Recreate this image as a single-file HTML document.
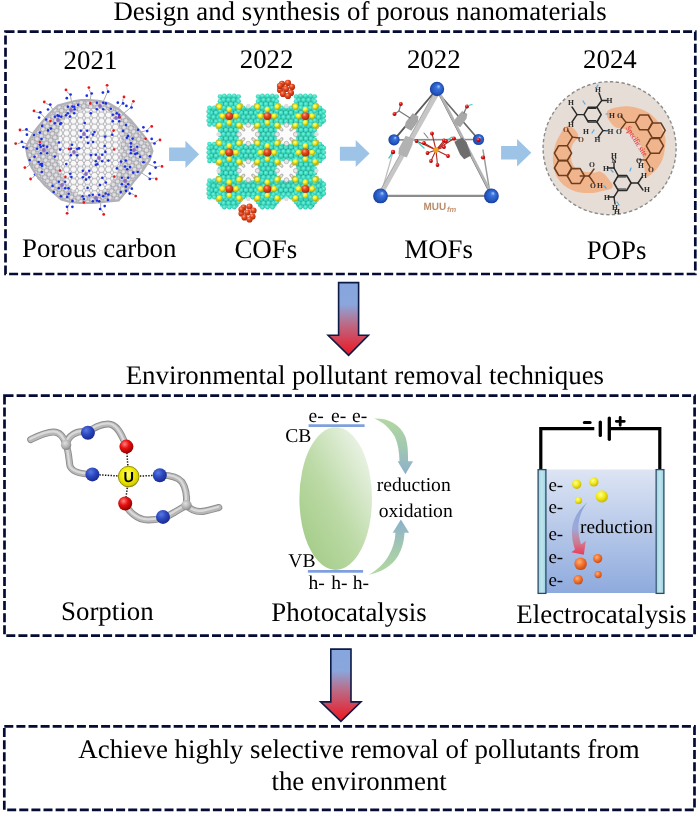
<!DOCTYPE html>
<html><head><meta charset="utf-8">
<style>
html,body{margin:0;padding:0;background:#fff;}
body{width:700px;height:814px;overflow:hidden;}
svg{display:block;will-change:transform;}
text{font-family:"Liberation Serif",serif;text-rendering:geometricPrecision;}
</style></head>
<body>
<svg width="700" height="814" viewBox="0 0 700 814">
<defs>
<linearGradient id="gArrow" x1="0" y1="0" x2="0" y2="1">
<stop offset="0" stop-color="#86a6de"/><stop offset="0.3" stop-color="#8aa6dc"/>
<stop offset="0.55" stop-color="#b86f8c"/><stop offset="1" stop-color="#f0141e"/>
</linearGradient>
<radialGradient id="gBlue" cx="0.5" cy="0.5" r="0.5" fx="0.63" fy="0.3">
<stop offset="0" stop-color="#a8ccff"/><stop offset="0.3" stop-color="#3a72da"/><stop offset="0.75" stop-color="#2456c0"/><stop offset="1" stop-color="#183e9c"/>
</radialGradient>
<radialGradient id="gRed" cx="0.38" cy="0.32" r="0.7">
<stop offset="0" stop-color="#ff9a8a"/><stop offset="0.4" stop-color="#e82020"/><stop offset="1" stop-color="#a00808"/>
</radialGradient>
<radialGradient id="gRedO" cx="0.38" cy="0.32" r="0.7">
<stop offset="0" stop-color="#ffa080"/><stop offset="0.4" stop-color="#e84a20"/><stop offset="1" stop-color="#a82808"/>
</radialGradient>
<radialGradient id="gTeal" cx="0.45" cy="0.4" r="0.65">
<stop offset="0" stop-color="#6ef8e0"/><stop offset="0.55" stop-color="#40dcc2"/><stop offset="1" stop-color="#28b8a0"/>
</radialGradient>
<radialGradient id="gYel" cx="0.4" cy="0.35" r="0.7">
<stop offset="0" stop-color="#ffffa0"/><stop offset="0.45" stop-color="#f2ea1a"/><stop offset="1" stop-color="#b0a000"/>
</radialGradient>
<radialGradient id="gYel2" cx="0.4" cy="0.35" r="0.7">
<stop offset="0" stop-color="#ffff90"/><stop offset="0.5" stop-color="#f0e818"/><stop offset="1" stop-color="#c0b000"/>
</radialGradient>
<radialGradient id="gOr" cx="0.4" cy="0.35" r="0.7">
<stop offset="0" stop-color="#ffb070"/><stop offset="0.5" stop-color="#f07030"/><stop offset="1" stop-color="#c04810"/>
</radialGradient>
<radialGradient id="gU" cx="0.45" cy="0.4" r="0.6">
<stop offset="0" stop-color="#ffff70"/><stop offset="0.55" stop-color="#f0ec00"/><stop offset="0.9" stop-color="#d4cc00"/><stop offset="1" stop-color="#a09800"/>
</radialGradient>
<radialGradient id="gKnot" cx="0.4" cy="0.35" r="0.7">
<stop offset="0" stop-color="#e0e0e0"/><stop offset="0.6" stop-color="#b0b0b0"/><stop offset="1" stop-color="#808080"/>
</radialGradient>
<radialGradient id="gBall2" cx="0.38" cy="0.32" r="0.7">
<stop offset="0" stop-color="#5a78e0"/><stop offset="0.5" stop-color="#2c48c0"/><stop offset="1" stop-color="#1a2a8c"/>
</radialGradient>
<radialGradient id="gBallR" cx="0.38" cy="0.32" r="0.7">
<stop offset="0" stop-color="#ff8080"/><stop offset="0.45" stop-color="#e81010"/><stop offset="1" stop-color="#900000"/>
</radialGradient>
<linearGradient id="gEll" x1="0.1" y1="0.95" x2="0.95" y2="0.05">
<stop offset="0" stop-color="#a2cb86"/><stop offset="0.45" stop-color="#bcdaa6"/><stop offset="1" stop-color="#f2f7f0"/>
</linearGradient>
<linearGradient id="gSol" x1="0" y1="0" x2="0" y2="1">
<stop offset="0" stop-color="#dde5f4"/><stop offset="1" stop-color="#8eaadd"/>
</linearGradient>
<linearGradient id="gElec" x1="0" y1="0" x2="1" y2="0">
<stop offset="0" stop-color="#9ed4e2"/><stop offset="0.5" stop-color="#bfe6ee"/><stop offset="1" stop-color="#98d0e0"/>
</linearGradient>
<linearGradient id="gCurA" x1="0" y1="0" x2="0" y2="1">
<stop offset="0" stop-color="#b2d8a0"/><stop offset="0.5" stop-color="#a2c8b0"/><stop offset="1" stop-color="#8cb0cc"/>
</linearGradient>
<linearGradient id="gCurB" x1="0" y1="1" x2="0" y2="0">
<stop offset="0" stop-color="#b2d8a0"/><stop offset="0.5" stop-color="#a2c8b0"/><stop offset="1" stop-color="#8cb0cc"/>
</linearGradient>
<linearGradient id="gCurE" x1="0" y1="0" x2="0" y2="1">
<stop offset="0" stop-color="#8aa6de"/><stop offset="0.5" stop-color="#9ea8d8"/><stop offset="0.78" stop-color="#d0788e"/><stop offset="1" stop-color="#ec3a56"/>
</linearGradient>
<pattern id="tealPat" width="5" height="8.6" patternUnits="userSpaceOnUse" x="1" y="1">
<rect width="5" height="8.6" fill="#229c8a"/>
<circle cx="0" cy="0" r="2.45" fill="url(#gTeal)"/><circle cx="5" cy="0" r="2.45" fill="url(#gTeal)"/>
<circle cx="2.5" cy="4.3" r="2.45" fill="url(#gTeal)"/>
<circle cx="0" cy="8.6" r="2.45" fill="url(#gTeal)"/><circle cx="5" cy="8.6" r="2.45" fill="url(#gTeal)"/>
</pattern>
<pattern id="hexS" width="5.2" height="9" patternUnits="userSpaceOnUse" patternTransform="rotate(-35)">
<path d="M0,0 L1.3,2.25 L3.9,2.25 L5.2,0 M1.3,2.25 L0,4.5 L1.3,6.75 L3.9,6.75 L5.2,4.5 L3.9,2.25 M1.3,6.75 L0,9 M3.9,6.75 L5.2,9" fill="none" stroke="#a2a2a8" stroke-width="0.95"/>
</pattern>
<pattern id="hexL" width="7" height="12.1" patternUnits="userSpaceOnUse">
<path d="M0,0 L1.75,3.03 L5.25,3.03 L7,0 M1.75,3.03 L0,6.06 L1.75,9.09 L5.25,9.09 L7,6.06 L5.25,3.03 M1.75,9.09 L0,12.12 M5.25,9.09 L7,12.12" fill="none" stroke="#a8a8ae" stroke-width="0.9"/>
</pattern>
</defs>

<!-- boxes -->
<g fill="none" stroke="#040b34" stroke-width="2.7" stroke-dasharray="9 3.1">
<rect x="5.5" y="31.7" width="689.8" height="242.3"/>
<rect x="4.5" y="395.7" width="690.1" height="239.9"/>
<rect x="4.3" y="726.4" width="690.2" height="83.5"/>
</g>
<g font-size="26.88">
<text x="113.4" y="20.4">Design and synthesis of porous nanomaterials</text>
<text x="63.6" y="68.6">2021</text>
<text x="239.7" y="68.4">2022</text>
<text x="406.9" y="67.9">2022</text>
<text x="583" y="68.1">2024</text>
<text x="21.95" y="257.4">Porous carbon</text>
<text x="234.4" y="258.3">COFs</text>
<text x="404.25" y="258.3">MOFs</text>
<text x="586.65" y="258.8">POPs</text>
<text x="125.65" y="383.9">Environmental pollutant removal techniques</text>
<text x="61" y="620">Sorption</text>
<text x="271.35" y="621.3">Photocatalysis</text>
<text x="516.35" y="623.1">Electrocatalysis</text>
<text x="78.35" y="757.5">Achieve highly selective removal of pollutants from</text>
<text x="271.45" y="790.4">the environment</text>
</g>
<path d="M338.6,282.6 H358.6 V335.3 H368.4 L348.6,355.3 L328.1,335.3 H338.6 Z" fill="url(#gArrow)" stroke="#0d1a45" stroke-width="1.6"/>
<path d="M330.8,649.1 H351 V701.9 H361 L340.9,721.3 L320.6,701.9 H330.8 Z" fill="url(#gArrow)" stroke="#0d1a45" stroke-width="1.6"/>
<g fill="#9dc3e6">
<path d="M169.1,147.5 H185.4 V140.7 L199.1,154.3 L185.4,167.9 V161.1 H169.1 Z"/>
<path d="M339.9,146.8 H355.7 V140 L369.6,153.6 L355.7,167.1 V160.7 H339.9 Z"/>
<path d="M501.1,145.9 H517.1 V139.1 L531.3,152.7 L517.1,166.4 V159.6 H501.1 Z"/>
</g>
<path d="M66.8,91.7 L70.2,94.7 L72.2,104.7" stroke="#a0a0a8" stroke-width="0.9" fill="none"/>
<circle cx="66.0" cy="89.9" r="1.4" fill="#e81818"/>
<circle cx="70.6" cy="94.5" r="1.35" fill="#1a2ee8"/>
<circle cx="66.8" cy="98.2" r="1.35" fill="#1a2ee8"/>
<path d="M89.0,89.6 L91.2,93.5 L89.7,103.6" stroke="#a0a0a8" stroke-width="0.9" fill="none"/>
<circle cx="88.9" cy="87.6" r="1.4" fill="#e81818"/>
<circle cx="91.7" cy="93.5" r="1.35" fill="#1a2ee8"/>
<circle cx="86.8" cy="95.7" r="1.35" fill="#1a2ee8"/>
<path d="M106.7,87.3 L107.7,91.6 L103.6,100.9" stroke="#a0a0a8" stroke-width="0.9" fill="none"/>
<circle cx="107.1" cy="85.3" r="1.4" fill="#e81818"/>
<circle cx="108.2" cy="91.7" r="1.35" fill="#1a2ee8"/>
<circle cx="102.9" cy="92.6" r="1.35" fill="#1a2ee8"/>
<path d="M45.7,103.4 L49.9,105.0 L55.3,113.6" stroke="#a0a0a8" stroke-width="0.9" fill="none"/>
<circle cx="44.3" cy="102.0" r="1.4" fill="#e81818"/>
<circle cx="50.3" cy="104.6" r="1.35" fill="#1a2ee8"/>
<circle cx="48.0" cy="109.5" r="1.35" fill="#1a2ee8"/>
<path d="M35.6,112.1 L40.1,112.7 L47.1,120.2" stroke="#a0a0a8" stroke-width="0.9" fill="none"/>
<circle cx="34.0" cy="110.9" r="1.4" fill="#e81818"/>
<circle cx="40.3" cy="112.3" r="1.35" fill="#1a2ee8"/>
<circle cx="39.1" cy="117.6" r="1.35" fill="#1a2ee8"/>
<path d="M132.1,102.8 L131.2,107.2 L123.3,113.7" stroke="#a0a0a8" stroke-width="0.9" fill="none"/>
<circle cx="133.4" cy="101.3" r="1.4" fill="#e81818"/>
<circle cx="131.5" cy="107.5" r="1.35" fill="#1a2ee8"/>
<circle cx="126.4" cy="105.9" r="1.35" fill="#1a2ee8"/>
<path d="M123.0,98.7 L122.7,103.2 L116.0,110.8" stroke="#a0a0a8" stroke-width="0.9" fill="none"/>
<circle cx="124.0" cy="97.0" r="1.4" fill="#e81818"/>
<circle cx="123.1" cy="103.4" r="1.35" fill="#1a2ee8"/>
<circle cx="117.8" cy="102.7" r="1.35" fill="#1a2ee8"/>
<path d="M149.9,127.2 L147.0,130.6 L137.0,132.7" stroke="#a0a0a8" stroke-width="0.9" fill="none"/>
<circle cx="151.7" cy="126.4" r="1.4" fill="#e81818"/>
<circle cx="147.2" cy="131.1" r="1.35" fill="#1a2ee8"/>
<circle cx="143.4" cy="127.3" r="1.35" fill="#1a2ee8"/>
<path d="M17.7,143.8 L21.9,142.3 L31.6,145.4" stroke="#a0a0a8" stroke-width="0.9" fill="none"/>
<circle cx="15.7" cy="143.6" r="1.4" fill="#e81818"/>
<circle cx="21.9" cy="141.8" r="1.35" fill="#1a2ee8"/>
<circle cx="23.4" cy="147.0" r="1.35" fill="#1a2ee8"/>
<path d="M26.8,167.1 L30.3,164.3 L40.5,164.0" stroke="#a0a0a8" stroke-width="0.9" fill="none"/>
<circle cx="24.9" cy="167.6" r="1.4" fill="#e81818"/>
<circle cx="30.2" cy="163.8" r="1.35" fill="#1a2ee8"/>
<circle cx="33.3" cy="168.2" r="1.35" fill="#1a2ee8"/>
<path d="M32.4,178.2 L35.3,174.8 L45.2,172.6" stroke="#a0a0a8" stroke-width="0.9" fill="none"/>
<circle cx="30.6" cy="179.0" r="1.4" fill="#e81818"/>
<circle cx="35.1" cy="174.3" r="1.35" fill="#1a2ee8"/>
<circle cx="38.9" cy="178.1" r="1.35" fill="#1a2ee8"/>
<path d="M67.9,211.4 L67.5,207.0 L73.1,198.5" stroke="#a0a0a8" stroke-width="0.9" fill="none"/>
<circle cx="67.1" cy="213.3" r="1.4" fill="#e81818"/>
<circle cx="67.0" cy="206.8" r="1.35" fill="#1a2ee8"/>
<circle cx="72.4" cy="206.8" r="1.35" fill="#1a2ee8"/>
<path d="M103.3,212.4 L100.6,208.9 L100.8,198.7" stroke="#a0a0a8" stroke-width="0.9" fill="none"/>
<circle cx="103.7" cy="214.4" r="1.4" fill="#e81818"/>
<circle cx="100.1" cy="209.0" r="1.35" fill="#1a2ee8"/>
<circle cx="104.7" cy="206.1" r="1.35" fill="#1a2ee8"/>
<path d="M160.0,166.0 L155.7,167.2 L146.3,163.2" stroke="#a0a0a8" stroke-width="0.9" fill="none"/>
<circle cx="162.0" cy="166.4" r="1.4" fill="#e81818"/>
<circle cx="155.6" cy="167.6" r="1.35" fill="#1a2ee8"/>
<circle cx="154.7" cy="162.3" r="1.35" fill="#1a2ee8"/>
<path d="M154.5,178.2 L150.0,178.5 L141.5,172.8" stroke="#a0a0a8" stroke-width="0.9" fill="none"/>
<circle cx="156.3" cy="179.0" r="1.4" fill="#e81818"/>
<circle cx="149.8" cy="179.0" r="1.35" fill="#1a2ee8"/>
<circle cx="149.9" cy="173.6" r="1.35" fill="#1a2ee8"/>
<path d="M134.3,194.7 L130.1,193.2 L124.4,184.7" stroke="#a0a0a8" stroke-width="0.9" fill="none"/>
<circle cx="135.7" cy="196.1" r="1.4" fill="#e81818"/>
<circle cx="129.7" cy="193.6" r="1.35" fill="#1a2ee8"/>
<circle cx="131.8" cy="188.7" r="1.35" fill="#1a2ee8"/>
<path d="M158.0,140.3 L154.4,143.0 L144.2,142.8" stroke="#a0a0a8" stroke-width="0.9" fill="none"/>
<circle cx="160.0" cy="140.0" r="1.4" fill="#e81818"/>
<circle cx="154.5" cy="143.5" r="1.35" fill="#1a2ee8"/>
<circle cx="151.7" cy="138.9" r="1.35" fill="#1a2ee8"/>
<path d="M21.9,130.6 L26.3,129.8 L35.3,134.7" stroke="#a0a0a8" stroke-width="0.9" fill="none"/>
<circle cx="20.0" cy="130.0" r="1.4" fill="#e81818"/>
<circle cx="26.5" cy="129.4" r="1.35" fill="#1a2ee8"/>
<circle cx="26.9" cy="134.7" r="1.35" fill="#1a2ee8"/>
<polygon points="26.0,147.0 30.0,139.0 34.0,132.0 38.0,127.0 43.0,121.0 48.0,115.0 53.0,110.0 58.0,105.5 67.0,103.0 75.0,101.0 81.0,100.0 90.0,100.0 100.0,101.0 108.0,103.0 110.0,104.0 119.3,109.7 130.7,120.0 142.1,133.7 150.1,144.0 152.4,151.0 149.4,160.6 141.7,172.1 134.0,181.1 126.3,191.4 118.6,200.4 105.7,201.7 92.9,203.0 80.0,203.0 70.0,202.0 61.4,199.4 53.0,192.4 45.0,185.4 37.0,176.0 31.4,166.7 27.5,156.0" fill="#e2e2e6"/>
<polygon points="26.0,147.0 30.0,139.0 34.0,132.0 38.0,127.0 43.0,121.0 48.0,115.0 53.0,110.0 58.0,105.5 67.0,103.0 75.0,101.0 81.0,100.0 90.0,100.0 100.0,101.0 108.0,103.0 110.0,104.0 119.3,109.7 130.7,120.0 142.1,133.7 150.1,144.0 152.4,151.0 149.4,160.6 141.7,172.1 134.0,181.1 126.3,191.4 118.6,200.4 105.7,201.7 92.9,203.0 80.0,203.0 70.0,202.0 61.4,199.4 53.0,192.4 45.0,185.4 37.0,176.0 31.4,166.7 27.5,156.0" fill="url(#hexS)"/>
<polygon points="26.0,147.0 30.0,139.0 34.0,132.0 38.0,127.0 43.0,121.0 48.0,115.0 53.0,110.0 58.0,105.5 67.0,103.0 75.0,101.0 81.0,100.0 90.0,100.0 100.0,101.0 108.0,103.0 110.0,104.0 119.3,109.7 130.7,120.0 142.1,133.7 150.1,144.0 152.4,151.0 149.4,160.6 141.7,172.1 134.0,181.1 126.3,191.4 118.6,200.4 105.7,201.7 92.9,203.0 80.0,203.0 70.0,202.0 61.4,199.4 53.0,192.4 45.0,185.4 37.0,176.0 31.4,166.7 27.5,156.0" fill="none" stroke="#b0b0b6" stroke-width="2.2"/>
<polygon points="60.0,126.0 68.0,115.0 85.0,109.0 106.0,109.0 117.0,118.0 121.0,135.0 120.0,160.0 116.0,176.0 108.0,188.0 94.0,196.0 78.0,194.0 66.0,184.0 60.0,168.0 58.0,148.0" fill="#f8f8f8"/>
<polygon points="60.0,126.0 68.0,115.0 85.0,109.0 106.0,109.0 117.0,118.0 121.0,135.0 120.0,160.0 116.0,176.0 108.0,188.0 94.0,196.0 78.0,194.0 66.0,184.0 60.0,168.0 58.0,148.0" fill="url(#hexL)"/>
<circle cx="83.9" cy="199.0" r="1.3" fill="#1a2ee8"/>
<circle cx="108.3" cy="194.5" r="1.3" fill="#1a2ee8"/>
<circle cx="37.1" cy="148.7" r="1.3" fill="#1a2ee8"/>
<circle cx="54.8" cy="156.6" r="1.3" fill="#1a2ee8"/>
<circle cx="50.8" cy="128.6" r="1.3" fill="#1a2ee8"/>
<circle cx="40.5" cy="164.4" r="1.3" fill="#1a2ee8"/>
<circle cx="138.0" cy="129.7" r="1.3" fill="#1a2ee8"/>
<circle cx="149.9" cy="156.2" r="1.3" fill="#1a2ee8"/>
<circle cx="70.0" cy="116.6" r="1.3" fill="#1a2ee8"/>
<circle cx="112.2" cy="134.8" r="1.3" fill="#1a2ee8"/>
<circle cx="130.9" cy="150.0" r="1.3" fill="#1a2ee8"/>
<circle cx="126.8" cy="137.8" r="1.3" fill="#1a2ee8"/>
<circle cx="34.1" cy="135.1" r="1.3" fill="#1a2ee8"/>
<circle cx="103.2" cy="196.3" r="1.3" fill="#1a2ee8"/>
<circle cx="67.2" cy="197.0" r="1.3" fill="#1a2ee8"/>
<circle cx="94.5" cy="132.1" r="1.3" fill="#1a2ee8"/>
<circle cx="41.8" cy="172.1" r="1.3" fill="#1a2ee8"/>
<circle cx="93.0" cy="142.0" r="1.3" fill="#1a2ee8"/>
<circle cx="78.1" cy="104.9" r="1.3" fill="#1a2ee8"/>
<circle cx="87.6" cy="187.9" r="1.3" fill="#1a2ee8"/>
<circle cx="105.8" cy="182.5" r="1.3" fill="#1a2ee8"/>
<circle cx="41.5" cy="139.0" r="1.3" fill="#1a2ee8"/>
<circle cx="105.4" cy="151.9" r="1.3" fill="#1a2ee8"/>
<circle cx="126.0" cy="190.9" r="1.3" fill="#1a2ee8"/>
<circle cx="70.3" cy="173.7" r="1.3" fill="#1a2ee8"/>
<circle cx="108.4" cy="160.6" r="1.3" fill="#1a2ee8"/>
<circle cx="128.1" cy="135.9" r="1.3" fill="#1a2ee8"/>
<circle cx="68.6" cy="188.3" r="1.3" fill="#1a2ee8"/>
<circle cx="137.7" cy="172.0" r="1.3" fill="#1a2ee8"/>
<circle cx="90.9" cy="155.1" r="1.3" fill="#1a2ee8"/>
<circle cx="119.1" cy="117.2" r="1.3" fill="#1a2ee8"/>
<circle cx="125.8" cy="160.6" r="1.3" fill="#1a2ee8"/>
<circle cx="125.0" cy="166.5" r="1.3" fill="#1a2ee8"/>
<circle cx="43.3" cy="145.8" r="1.3" fill="#1a2ee8"/>
<circle cx="105.9" cy="103.4" r="1.3" fill="#1a2ee8"/>
<circle cx="84.7" cy="123.0" r="1.3" fill="#1a2ee8"/>
<circle cx="39.8" cy="132.6" r="1.3" fill="#1a2ee8"/>
<circle cx="46.1" cy="119.5" r="1.3" fill="#1a2ee8"/>
<circle cx="26.7" cy="148.3" r="1.3" fill="#1a2ee8"/>
<circle cx="59.0" cy="142.5" r="1.3" fill="#1a2ee8"/>
<circle cx="132.6" cy="138.6" r="1.3" fill="#1a2ee8"/>
<circle cx="34.6" cy="156.8" r="1.3" fill="#1a2ee8"/>
<circle cx="130.9" cy="143.4" r="1.3" fill="#1a2ee8"/>
<circle cx="130.1" cy="167.1" r="1.3" fill="#1a2ee8"/>
<circle cx="97.0" cy="200.5" r="1.3" fill="#1a2ee8"/>
<circle cx="68.7" cy="193.7" r="1.3" fill="#1a2ee8"/>
<circle cx="97.3" cy="164.2" r="1.3" fill="#1a2ee8"/>
<circle cx="105.7" cy="193.5" r="1.3" fill="#1a2ee8"/>
<circle cx="72.0" cy="144.8" r="1.3" fill="#1a2ee8"/>
<circle cx="72.5" cy="200.9" r="1.3" fill="#1a2ee8"/>
<circle cx="143.5" cy="162.2" r="1.3" fill="#1a2ee8"/>
<circle cx="88.0" cy="143.0" r="1.3" fill="#1a2ee8"/>
<circle cx="60.1" cy="149.6" r="1.3" fill="#1a2ee8"/>
<circle cx="104.7" cy="146.0" r="1.3" fill="#1a2ee8"/>
<circle cx="126.0" cy="186.6" r="1.3" fill="#1a2ee8"/>
<circle cx="126.0" cy="125.0" r="1.3" fill="#1a2ee8"/>
<circle cx="57.6" cy="115.4" r="1.3" fill="#1a2ee8"/>
<circle cx="102.3" cy="177.8" r="1.3" fill="#1a2ee8"/>
<circle cx="123.1" cy="130.9" r="1.3" fill="#1a2ee8"/>
<circle cx="93.0" cy="134.6" r="1.3" fill="#1a2ee8"/>
<circle cx="121.1" cy="161.6" r="1.3" fill="#1a2ee8"/>
<circle cx="82.6" cy="196.2" r="1.3" fill="#1a2ee8"/>
<circle cx="140.1" cy="156.8" r="1.3" fill="#1a2ee8"/>
<circle cx="48.1" cy="130.4" r="1.3" fill="#1a2ee8"/>
<circle cx="133.2" cy="172.6" r="1.3" fill="#1a2ee8"/>
<circle cx="66.0" cy="115.3" r="1.3" fill="#1a2ee8"/>
<circle cx="99.9" cy="185.1" r="1.3" fill="#1a2ee8"/>
<circle cx="52.6" cy="185.9" r="1.3" fill="#1a2ee8"/>
<circle cx="127.3" cy="169.3" r="1.3" fill="#1a2ee8"/>
<circle cx="107.9" cy="199.9" r="1.3" fill="#1a2ee8"/>
<circle cx="116.8" cy="113.3" r="1.3" fill="#1a2ee8"/>
<circle cx="60.9" cy="196.3" r="1.3" fill="#1a2ee8"/>
<circle cx="41.9" cy="163.7" r="1.3" fill="#1a2ee8"/>
<circle cx="72.4" cy="106.6" r="1.3" fill="#1a2ee8"/>
<circle cx="29.7" cy="160.0" r="1.3" fill="#1a2ee8"/>
<circle cx="120.7" cy="192.1" r="1.3" fill="#1a2ee8"/>
<circle cx="39.9" cy="144.8" r="1.3" fill="#1a2ee8"/>
<circle cx="42.1" cy="165.9" r="1.3" fill="#1a2ee8"/>
<circle cx="89.3" cy="195.5" r="1.3" fill="#1a2ee8"/>
<circle cx="95.8" cy="164.8" r="1.3" fill="#1a2ee8"/>
<circle cx="90.8" cy="113.2" r="1.3" fill="#1a2ee8"/>
<circle cx="71.4" cy="177.1" r="1.3" fill="#1a2ee8"/>
<circle cx="116.9" cy="168.4" r="1.3" fill="#1a2ee8"/>
<circle cx="110.8" cy="108.7" r="1.3" fill="#1a2ee8"/>
<circle cx="38.6" cy="162.0" r="1.3" fill="#1a2ee8"/>
<circle cx="53.7" cy="192.0" r="1.3" fill="#1a2ee8"/>
<circle cx="105.1" cy="136.6" r="1.3" fill="#1a2ee8"/>
<circle cx="66.3" cy="164.1" r="1.3" fill="#1a2ee8"/>
<circle cx="135.3" cy="153.9" r="1.3" fill="#1a2ee8"/>
<circle cx="74.6" cy="109.3" r="1.3" fill="#1a2ee8"/>
<circle cx="86.0" cy="179.6" r="1.3" fill="#1a2ee8"/>
<circle cx="79.0" cy="148.4" r="1.3" fill="#1a2ee8"/>
<circle cx="42.2" cy="125.9" r="1.3" fill="#1a2ee8"/>
<circle cx="58.9" cy="116.1" r="1.3" fill="#1a2ee8"/>
<circle cx="60.2" cy="123.9" r="1.3" fill="#1a2ee8"/>
<circle cx="84" cy="134" r="1.9" fill="#8a6cc0"/>
<circle cx="80.8" cy="130.8" r="1.25" fill="#1a2ee8"/>
<circle cx="87.2" cy="130.8" r="1.25" fill="#1a2ee8"/>
<circle cx="80.8" cy="137.2" r="1.25" fill="#1a2ee8"/>
<circle cx="87.2" cy="137.2" r="1.25" fill="#1a2ee8"/>
<circle cx="74" cy="152" r="1.9" fill="#8a6cc0"/>
<circle cx="70.8" cy="148.8" r="1.25" fill="#1a2ee8"/>
<circle cx="77.2" cy="148.8" r="1.25" fill="#1a2ee8"/>
<circle cx="70.8" cy="155.2" r="1.25" fill="#1a2ee8"/>
<circle cx="77.2" cy="155.2" r="1.25" fill="#1a2ee8"/>
<circle cx="99" cy="158" r="1.9" fill="#8a6cc0"/>
<circle cx="95.8" cy="154.8" r="1.25" fill="#1a2ee8"/>
<circle cx="102.2" cy="154.8" r="1.25" fill="#1a2ee8"/>
<circle cx="95.8" cy="161.2" r="1.25" fill="#1a2ee8"/>
<circle cx="102.2" cy="161.2" r="1.25" fill="#1a2ee8"/>
<circle cx="86" cy="174" r="1.9" fill="#8a6cc0"/>
<circle cx="82.8" cy="170.8" r="1.25" fill="#1a2ee8"/>
<circle cx="89.2" cy="170.8" r="1.25" fill="#1a2ee8"/>
<circle cx="82.8" cy="177.2" r="1.25" fill="#1a2ee8"/>
<circle cx="89.2" cy="177.2" r="1.25" fill="#1a2ee8"/>
<circle cx="58" cy="120" r="1.9" fill="#8a6cc0"/>
<circle cx="54.8" cy="116.8" r="1.25" fill="#1a2ee8"/>
<circle cx="61.2" cy="116.8" r="1.25" fill="#1a2ee8"/>
<circle cx="54.8" cy="123.2" r="1.25" fill="#1a2ee8"/>
<circle cx="61.2" cy="123.2" r="1.25" fill="#1a2ee8"/>
<circle cx="44" cy="150" r="1.9" fill="#8a6cc0"/>
<circle cx="40.8" cy="146.8" r="1.25" fill="#1a2ee8"/>
<circle cx="47.2" cy="146.8" r="1.25" fill="#1a2ee8"/>
<circle cx="40.8" cy="153.2" r="1.25" fill="#1a2ee8"/>
<circle cx="47.2" cy="153.2" r="1.25" fill="#1a2ee8"/>
<circle cx="62" cy="185" r="1.9" fill="#8a6cc0"/>
<circle cx="58.8" cy="181.8" r="1.25" fill="#1a2ee8"/>
<circle cx="65.2" cy="181.8" r="1.25" fill="#1a2ee8"/>
<circle cx="58.8" cy="188.2" r="1.25" fill="#1a2ee8"/>
<circle cx="65.2" cy="188.2" r="1.25" fill="#1a2ee8"/>
<circle cx="116" cy="118" r="1.9" fill="#8a6cc0"/>
<circle cx="112.8" cy="114.8" r="1.25" fill="#1a2ee8"/>
<circle cx="119.2" cy="114.8" r="1.25" fill="#1a2ee8"/>
<circle cx="112.8" cy="121.2" r="1.25" fill="#1a2ee8"/>
<circle cx="119.2" cy="121.2" r="1.25" fill="#1a2ee8"/>
<circle cx="134" cy="150" r="1.9" fill="#8a6cc0"/>
<circle cx="130.8" cy="146.8" r="1.25" fill="#1a2ee8"/>
<circle cx="137.2" cy="146.8" r="1.25" fill="#1a2ee8"/>
<circle cx="130.8" cy="153.2" r="1.25" fill="#1a2ee8"/>
<circle cx="137.2" cy="153.2" r="1.25" fill="#1a2ee8"/>
<circle cx="125" cy="181" r="1.9" fill="#8a6cc0"/>
<circle cx="121.8" cy="177.8" r="1.25" fill="#1a2ee8"/>
<circle cx="128.2" cy="177.8" r="1.25" fill="#1a2ee8"/>
<circle cx="121.8" cy="184.2" r="1.25" fill="#1a2ee8"/>
<circle cx="128.2" cy="184.2" r="1.25" fill="#1a2ee8"/>
<circle cx="96" cy="198" r="1.9" fill="#8a6cc0"/>
<circle cx="92.8" cy="194.8" r="1.25" fill="#1a2ee8"/>
<circle cx="99.2" cy="194.8" r="1.25" fill="#1a2ee8"/>
<circle cx="92.8" cy="201.2" r="1.25" fill="#1a2ee8"/>
<circle cx="99.2" cy="201.2" r="1.25" fill="#1a2ee8"/>
<circle cx="100" cy="106" r="1.9" fill="#8a6cc0"/>
<circle cx="96.8" cy="102.8" r="1.25" fill="#1a2ee8"/>
<circle cx="103.2" cy="102.8" r="1.25" fill="#1a2ee8"/>
<circle cx="96.8" cy="109.2" r="1.25" fill="#1a2ee8"/>
<circle cx="103.2" cy="109.2" r="1.25" fill="#1a2ee8"/>
<circle cx="71" cy="110" r="1.9" fill="#8a6cc0"/>
<circle cx="67.8" cy="106.8" r="1.25" fill="#1a2ee8"/>
<circle cx="74.2" cy="106.8" r="1.25" fill="#1a2ee8"/>
<circle cx="67.8" cy="113.2" r="1.25" fill="#1a2ee8"/>
<circle cx="74.2" cy="113.2" r="1.25" fill="#1a2ee8"/>
<circle cx="90.3" cy="103.4" r="1.3" fill="#e81818"/>
<circle cx="145.6" cy="138.7" r="1.3" fill="#e81818"/>
<circle cx="114.2" cy="149.5" r="1.3" fill="#e81818"/>
<circle cx="113.6" cy="130.6" r="1.3" fill="#e81818"/>
<circle cx="114.3" cy="176.6" r="1.3" fill="#e81818"/>
<circle cx="50.4" cy="121.1" r="1.3" fill="#e81818"/>
<circle cx="39.8" cy="142.1" r="1.3" fill="#e81818"/>
<circle cx="69.0" cy="149.1" r="1.3" fill="#e81818"/>
<circle cx="65.4" cy="176.9" r="1.3" fill="#e81818"/>
<circle cx="119.7" cy="117.2" r="1.3" fill="#e81818"/>
<circle cx="60.1" cy="170.6" r="1.3" fill="#e81818"/>
<circle cx="83.8" cy="202.4" r="1.3" fill="#e81818"/>
<circle cx="242.3" cy="126.3" r="2.6" fill="#d8d8d8"/>
<circle cx="254.3" cy="126.3" r="2.6" fill="#d8d8d8"/>
<circle cx="242.3" cy="142.3" r="2.6" fill="#d8d8d8"/>
<circle cx="254.3" cy="142.3" r="2.6" fill="#d8d8d8"/>
<circle cx="240.3" cy="130.3" r="2.6" fill="#d8d8d8"/>
<circle cx="256.4" cy="130.3" r="2.6" fill="#d8d8d8"/>
<circle cx="240.3" cy="138.3" r="2.6" fill="#d8d8d8"/>
<circle cx="256.4" cy="138.3" r="2.6" fill="#d8d8d8"/>
<circle cx="242.3" cy="162.7" r="2.6" fill="#d8d8d8"/>
<circle cx="254.3" cy="162.7" r="2.6" fill="#d8d8d8"/>
<circle cx="242.3" cy="178.7" r="2.6" fill="#d8d8d8"/>
<circle cx="254.3" cy="178.7" r="2.6" fill="#d8d8d8"/>
<circle cx="240.3" cy="166.7" r="2.6" fill="#d8d8d8"/>
<circle cx="256.4" cy="166.7" r="2.6" fill="#d8d8d8"/>
<circle cx="240.3" cy="174.7" r="2.6" fill="#d8d8d8"/>
<circle cx="256.4" cy="174.7" r="2.6" fill="#d8d8d8"/>
<circle cx="280.4" cy="126.3" r="2.6" fill="#d8d8d8"/>
<circle cx="292.4" cy="126.3" r="2.6" fill="#d8d8d8"/>
<circle cx="280.4" cy="142.3" r="2.6" fill="#d8d8d8"/>
<circle cx="292.4" cy="142.3" r="2.6" fill="#d8d8d8"/>
<circle cx="278.4" cy="130.3" r="2.6" fill="#d8d8d8"/>
<circle cx="294.4" cy="130.3" r="2.6" fill="#d8d8d8"/>
<circle cx="278.4" cy="138.3" r="2.6" fill="#d8d8d8"/>
<circle cx="294.4" cy="138.3" r="2.6" fill="#d8d8d8"/>
<circle cx="280.4" cy="162.7" r="2.6" fill="#d8d8d8"/>
<circle cx="292.4" cy="162.7" r="2.6" fill="#d8d8d8"/>
<circle cx="280.4" cy="178.7" r="2.6" fill="#d8d8d8"/>
<circle cx="292.4" cy="178.7" r="2.6" fill="#d8d8d8"/>
<circle cx="278.4" cy="166.7" r="2.6" fill="#d8d8d8"/>
<circle cx="294.4" cy="166.7" r="2.6" fill="#d8d8d8"/>
<circle cx="278.4" cy="174.7" r="2.6" fill="#d8d8d8"/>
<circle cx="294.4" cy="174.7" r="2.6" fill="#d8d8d8"/>
<g fill="url(#tealPat)"><rect x="208.2" y="107.7" width="116.2" height="16.8" rx="3"/><rect x="208.2" y="144.1" width="116.2" height="16.8" rx="3"/><rect x="208.2" y="180.5" width="116.2" height="16.8" rx="3"/><rect x="220.0" y="95.3" width="18.6" height="112.4" rx="3"/><rect x="258.1" y="95.3" width="18.6" height="112.4" rx="3"/><rect x="296.1" y="95.3" width="18.6" height="112.4" rx="3"/><circle cx="229.3" cy="116.1" r="13.2"/><circle cx="229.3" cy="152.5" r="13.2"/><circle cx="229.3" cy="188.9" r="13.2"/><circle cx="267.4" cy="116.1" r="13.2"/><circle cx="267.4" cy="152.5" r="13.2"/><circle cx="267.4" cy="188.9" r="13.2"/><circle cx="305.4" cy="116.1" r="13.2"/><circle cx="305.4" cy="152.5" r="13.2"/><circle cx="305.4" cy="188.9" r="13.2"/></g>
<g><circle cx="209.5" cy="107.7" r="2.3" fill="url(#gTeal)"/><circle cx="214.3" cy="107.7" r="2.3" fill="url(#gTeal)"/><circle cx="219.1" cy="107.7" r="2.3" fill="url(#gTeal)"/><circle cx="223.9" cy="107.7" r="2.3" fill="url(#gTeal)"/><circle cx="228.7" cy="107.7" r="2.3" fill="url(#gTeal)"/><circle cx="233.5" cy="107.7" r="2.3" fill="url(#gTeal)"/><circle cx="238.3" cy="107.7" r="2.3" fill="url(#gTeal)"/><circle cx="243.1" cy="107.7" r="2.3" fill="url(#gTeal)"/><circle cx="247.9" cy="107.7" r="2.3" fill="url(#gTeal)"/><circle cx="252.7" cy="107.7" r="2.3" fill="url(#gTeal)"/><circle cx="257.5" cy="107.7" r="2.3" fill="url(#gTeal)"/><circle cx="262.3" cy="107.7" r="2.3" fill="url(#gTeal)"/><circle cx="267.1" cy="107.7" r="2.3" fill="url(#gTeal)"/><circle cx="271.9" cy="107.7" r="2.3" fill="url(#gTeal)"/><circle cx="276.7" cy="107.7" r="2.3" fill="url(#gTeal)"/><circle cx="281.5" cy="107.7" r="2.3" fill="url(#gTeal)"/><circle cx="286.3" cy="107.7" r="2.3" fill="url(#gTeal)"/><circle cx="291.1" cy="107.7" r="2.3" fill="url(#gTeal)"/><circle cx="295.9" cy="107.7" r="2.3" fill="url(#gTeal)"/><circle cx="300.7" cy="107.7" r="2.3" fill="url(#gTeal)"/><circle cx="305.5" cy="107.7" r="2.3" fill="url(#gTeal)"/><circle cx="310.3" cy="107.7" r="2.3" fill="url(#gTeal)"/><circle cx="315.1" cy="107.7" r="2.3" fill="url(#gTeal)"/><circle cx="319.9" cy="107.7" r="2.3" fill="url(#gTeal)"/><circle cx="209.5" cy="124.5" r="2.3" fill="url(#gTeal)"/><circle cx="214.3" cy="124.5" r="2.3" fill="url(#gTeal)"/><circle cx="219.1" cy="124.5" r="2.3" fill="url(#gTeal)"/><circle cx="223.9" cy="124.5" r="2.3" fill="url(#gTeal)"/><circle cx="228.7" cy="124.5" r="2.3" fill="url(#gTeal)"/><circle cx="233.5" cy="124.5" r="2.3" fill="url(#gTeal)"/><circle cx="238.3" cy="124.5" r="2.3" fill="url(#gTeal)"/><circle cx="243.1" cy="124.5" r="2.3" fill="url(#gTeal)"/><circle cx="247.9" cy="124.5" r="2.3" fill="url(#gTeal)"/><circle cx="252.7" cy="124.5" r="2.3" fill="url(#gTeal)"/><circle cx="257.5" cy="124.5" r="2.3" fill="url(#gTeal)"/><circle cx="262.3" cy="124.5" r="2.3" fill="url(#gTeal)"/><circle cx="267.1" cy="124.5" r="2.3" fill="url(#gTeal)"/><circle cx="271.9" cy="124.5" r="2.3" fill="url(#gTeal)"/><circle cx="276.7" cy="124.5" r="2.3" fill="url(#gTeal)"/><circle cx="281.5" cy="124.5" r="2.3" fill="url(#gTeal)"/><circle cx="286.3" cy="124.5" r="2.3" fill="url(#gTeal)"/><circle cx="291.1" cy="124.5" r="2.3" fill="url(#gTeal)"/><circle cx="295.9" cy="124.5" r="2.3" fill="url(#gTeal)"/><circle cx="300.7" cy="124.5" r="2.3" fill="url(#gTeal)"/><circle cx="305.5" cy="124.5" r="2.3" fill="url(#gTeal)"/><circle cx="310.3" cy="124.5" r="2.3" fill="url(#gTeal)"/><circle cx="315.1" cy="124.5" r="2.3" fill="url(#gTeal)"/><circle cx="319.9" cy="124.5" r="2.3" fill="url(#gTeal)"/><circle cx="209.5" cy="144.1" r="2.3" fill="url(#gTeal)"/><circle cx="214.3" cy="144.1" r="2.3" fill="url(#gTeal)"/><circle cx="219.1" cy="144.1" r="2.3" fill="url(#gTeal)"/><circle cx="223.9" cy="144.1" r="2.3" fill="url(#gTeal)"/><circle cx="228.7" cy="144.1" r="2.3" fill="url(#gTeal)"/><circle cx="233.5" cy="144.1" r="2.3" fill="url(#gTeal)"/><circle cx="238.3" cy="144.1" r="2.3" fill="url(#gTeal)"/><circle cx="243.1" cy="144.1" r="2.3" fill="url(#gTeal)"/><circle cx="247.9" cy="144.1" r="2.3" fill="url(#gTeal)"/><circle cx="252.7" cy="144.1" r="2.3" fill="url(#gTeal)"/><circle cx="257.5" cy="144.1" r="2.3" fill="url(#gTeal)"/><circle cx="262.3" cy="144.1" r="2.3" fill="url(#gTeal)"/><circle cx="267.1" cy="144.1" r="2.3" fill="url(#gTeal)"/><circle cx="271.9" cy="144.1" r="2.3" fill="url(#gTeal)"/><circle cx="276.7" cy="144.1" r="2.3" fill="url(#gTeal)"/><circle cx="281.5" cy="144.1" r="2.3" fill="url(#gTeal)"/><circle cx="286.3" cy="144.1" r="2.3" fill="url(#gTeal)"/><circle cx="291.1" cy="144.1" r="2.3" fill="url(#gTeal)"/><circle cx="295.9" cy="144.1" r="2.3" fill="url(#gTeal)"/><circle cx="300.7" cy="144.1" r="2.3" fill="url(#gTeal)"/><circle cx="305.5" cy="144.1" r="2.3" fill="url(#gTeal)"/><circle cx="310.3" cy="144.1" r="2.3" fill="url(#gTeal)"/><circle cx="315.1" cy="144.1" r="2.3" fill="url(#gTeal)"/><circle cx="319.9" cy="144.1" r="2.3" fill="url(#gTeal)"/><circle cx="209.5" cy="160.9" r="2.3" fill="url(#gTeal)"/><circle cx="214.3" cy="160.9" r="2.3" fill="url(#gTeal)"/><circle cx="219.1" cy="160.9" r="2.3" fill="url(#gTeal)"/><circle cx="223.9" cy="160.9" r="2.3" fill="url(#gTeal)"/><circle cx="228.7" cy="160.9" r="2.3" fill="url(#gTeal)"/><circle cx="233.5" cy="160.9" r="2.3" fill="url(#gTeal)"/><circle cx="238.3" cy="160.9" r="2.3" fill="url(#gTeal)"/><circle cx="243.1" cy="160.9" r="2.3" fill="url(#gTeal)"/><circle cx="247.9" cy="160.9" r="2.3" fill="url(#gTeal)"/><circle cx="252.7" cy="160.9" r="2.3" fill="url(#gTeal)"/><circle cx="257.5" cy="160.9" r="2.3" fill="url(#gTeal)"/><circle cx="262.3" cy="160.9" r="2.3" fill="url(#gTeal)"/><circle cx="267.1" cy="160.9" r="2.3" fill="url(#gTeal)"/><circle cx="271.9" cy="160.9" r="2.3" fill="url(#gTeal)"/><circle cx="276.7" cy="160.9" r="2.3" fill="url(#gTeal)"/><circle cx="281.5" cy="160.9" r="2.3" fill="url(#gTeal)"/><circle cx="286.3" cy="160.9" r="2.3" fill="url(#gTeal)"/><circle cx="291.1" cy="160.9" r="2.3" fill="url(#gTeal)"/><circle cx="295.9" cy="160.9" r="2.3" fill="url(#gTeal)"/><circle cx="300.7" cy="160.9" r="2.3" fill="url(#gTeal)"/><circle cx="305.5" cy="160.9" r="2.3" fill="url(#gTeal)"/><circle cx="310.3" cy="160.9" r="2.3" fill="url(#gTeal)"/><circle cx="315.1" cy="160.9" r="2.3" fill="url(#gTeal)"/><circle cx="319.9" cy="160.9" r="2.3" fill="url(#gTeal)"/><circle cx="209.5" cy="180.5" r="2.3" fill="url(#gTeal)"/><circle cx="214.3" cy="180.5" r="2.3" fill="url(#gTeal)"/><circle cx="219.1" cy="180.5" r="2.3" fill="url(#gTeal)"/><circle cx="223.9" cy="180.5" r="2.3" fill="url(#gTeal)"/><circle cx="228.7" cy="180.5" r="2.3" fill="url(#gTeal)"/><circle cx="233.5" cy="180.5" r="2.3" fill="url(#gTeal)"/><circle cx="238.3" cy="180.5" r="2.3" fill="url(#gTeal)"/><circle cx="243.1" cy="180.5" r="2.3" fill="url(#gTeal)"/><circle cx="247.9" cy="180.5" r="2.3" fill="url(#gTeal)"/><circle cx="252.7" cy="180.5" r="2.3" fill="url(#gTeal)"/><circle cx="257.5" cy="180.5" r="2.3" fill="url(#gTeal)"/><circle cx="262.3" cy="180.5" r="2.3" fill="url(#gTeal)"/><circle cx="267.1" cy="180.5" r="2.3" fill="url(#gTeal)"/><circle cx="271.9" cy="180.5" r="2.3" fill="url(#gTeal)"/><circle cx="276.7" cy="180.5" r="2.3" fill="url(#gTeal)"/><circle cx="281.5" cy="180.5" r="2.3" fill="url(#gTeal)"/><circle cx="286.3" cy="180.5" r="2.3" fill="url(#gTeal)"/><circle cx="291.1" cy="180.5" r="2.3" fill="url(#gTeal)"/><circle cx="295.9" cy="180.5" r="2.3" fill="url(#gTeal)"/><circle cx="300.7" cy="180.5" r="2.3" fill="url(#gTeal)"/><circle cx="305.5" cy="180.5" r="2.3" fill="url(#gTeal)"/><circle cx="310.3" cy="180.5" r="2.3" fill="url(#gTeal)"/><circle cx="315.1" cy="180.5" r="2.3" fill="url(#gTeal)"/><circle cx="319.9" cy="180.5" r="2.3" fill="url(#gTeal)"/><circle cx="209.5" cy="197.3" r="2.3" fill="url(#gTeal)"/><circle cx="214.3" cy="197.3" r="2.3" fill="url(#gTeal)"/><circle cx="219.1" cy="197.3" r="2.3" fill="url(#gTeal)"/><circle cx="223.9" cy="197.3" r="2.3" fill="url(#gTeal)"/><circle cx="228.7" cy="197.3" r="2.3" fill="url(#gTeal)"/><circle cx="233.5" cy="197.3" r="2.3" fill="url(#gTeal)"/><circle cx="238.3" cy="197.3" r="2.3" fill="url(#gTeal)"/><circle cx="243.1" cy="197.3" r="2.3" fill="url(#gTeal)"/><circle cx="247.9" cy="197.3" r="2.3" fill="url(#gTeal)"/><circle cx="252.7" cy="197.3" r="2.3" fill="url(#gTeal)"/><circle cx="257.5" cy="197.3" r="2.3" fill="url(#gTeal)"/><circle cx="262.3" cy="197.3" r="2.3" fill="url(#gTeal)"/><circle cx="267.1" cy="197.3" r="2.3" fill="url(#gTeal)"/><circle cx="271.9" cy="197.3" r="2.3" fill="url(#gTeal)"/><circle cx="276.7" cy="197.3" r="2.3" fill="url(#gTeal)"/><circle cx="281.5" cy="197.3" r="2.3" fill="url(#gTeal)"/><circle cx="286.3" cy="197.3" r="2.3" fill="url(#gTeal)"/><circle cx="291.1" cy="197.3" r="2.3" fill="url(#gTeal)"/><circle cx="295.9" cy="197.3" r="2.3" fill="url(#gTeal)"/><circle cx="300.7" cy="197.3" r="2.3" fill="url(#gTeal)"/><circle cx="305.5" cy="197.3" r="2.3" fill="url(#gTeal)"/><circle cx="310.3" cy="197.3" r="2.3" fill="url(#gTeal)"/><circle cx="315.1" cy="197.3" r="2.3" fill="url(#gTeal)"/><circle cx="319.9" cy="197.3" r="2.3" fill="url(#gTeal)"/><circle cx="220.0" cy="96.5" r="2.3" fill="url(#gTeal)"/><circle cx="220.0" cy="101.3" r="2.3" fill="url(#gTeal)"/><circle cx="220.0" cy="106.1" r="2.3" fill="url(#gTeal)"/><circle cx="220.0" cy="110.9" r="2.3" fill="url(#gTeal)"/><circle cx="220.0" cy="115.7" r="2.3" fill="url(#gTeal)"/><circle cx="220.0" cy="120.5" r="2.3" fill="url(#gTeal)"/><circle cx="220.0" cy="125.3" r="2.3" fill="url(#gTeal)"/><circle cx="220.0" cy="130.1" r="2.3" fill="url(#gTeal)"/><circle cx="220.0" cy="134.9" r="2.3" fill="url(#gTeal)"/><circle cx="220.0" cy="139.7" r="2.3" fill="url(#gTeal)"/><circle cx="220.0" cy="144.5" r="2.3" fill="url(#gTeal)"/><circle cx="220.0" cy="149.3" r="2.3" fill="url(#gTeal)"/><circle cx="220.0" cy="154.1" r="2.3" fill="url(#gTeal)"/><circle cx="220.0" cy="158.9" r="2.3" fill="url(#gTeal)"/><circle cx="220.0" cy="163.7" r="2.3" fill="url(#gTeal)"/><circle cx="220.0" cy="168.5" r="2.3" fill="url(#gTeal)"/><circle cx="220.0" cy="173.3" r="2.3" fill="url(#gTeal)"/><circle cx="220.0" cy="178.1" r="2.3" fill="url(#gTeal)"/><circle cx="220.0" cy="182.9" r="2.3" fill="url(#gTeal)"/><circle cx="220.0" cy="187.7" r="2.3" fill="url(#gTeal)"/><circle cx="220.0" cy="192.5" r="2.3" fill="url(#gTeal)"/><circle cx="220.0" cy="197.3" r="2.3" fill="url(#gTeal)"/><circle cx="220.0" cy="202.1" r="2.3" fill="url(#gTeal)"/><circle cx="238.6" cy="96.5" r="2.3" fill="url(#gTeal)"/><circle cx="238.6" cy="101.3" r="2.3" fill="url(#gTeal)"/><circle cx="238.6" cy="106.1" r="2.3" fill="url(#gTeal)"/><circle cx="238.6" cy="110.9" r="2.3" fill="url(#gTeal)"/><circle cx="238.6" cy="115.7" r="2.3" fill="url(#gTeal)"/><circle cx="238.6" cy="120.5" r="2.3" fill="url(#gTeal)"/><circle cx="238.6" cy="125.3" r="2.3" fill="url(#gTeal)"/><circle cx="238.6" cy="130.1" r="2.3" fill="url(#gTeal)"/><circle cx="238.6" cy="134.9" r="2.3" fill="url(#gTeal)"/><circle cx="238.6" cy="139.7" r="2.3" fill="url(#gTeal)"/><circle cx="238.6" cy="144.5" r="2.3" fill="url(#gTeal)"/><circle cx="238.6" cy="149.3" r="2.3" fill="url(#gTeal)"/><circle cx="238.6" cy="154.1" r="2.3" fill="url(#gTeal)"/><circle cx="238.6" cy="158.9" r="2.3" fill="url(#gTeal)"/><circle cx="238.6" cy="163.7" r="2.3" fill="url(#gTeal)"/><circle cx="238.6" cy="168.5" r="2.3" fill="url(#gTeal)"/><circle cx="238.6" cy="173.3" r="2.3" fill="url(#gTeal)"/><circle cx="238.6" cy="178.1" r="2.3" fill="url(#gTeal)"/><circle cx="238.6" cy="182.9" r="2.3" fill="url(#gTeal)"/><circle cx="238.6" cy="187.7" r="2.3" fill="url(#gTeal)"/><circle cx="238.6" cy="192.5" r="2.3" fill="url(#gTeal)"/><circle cx="238.6" cy="197.3" r="2.3" fill="url(#gTeal)"/><circle cx="238.6" cy="202.1" r="2.3" fill="url(#gTeal)"/><circle cx="258.1" cy="96.5" r="2.3" fill="url(#gTeal)"/><circle cx="258.1" cy="101.3" r="2.3" fill="url(#gTeal)"/><circle cx="258.1" cy="106.1" r="2.3" fill="url(#gTeal)"/><circle cx="258.1" cy="110.9" r="2.3" fill="url(#gTeal)"/><circle cx="258.1" cy="115.7" r="2.3" fill="url(#gTeal)"/><circle cx="258.1" cy="120.5" r="2.3" fill="url(#gTeal)"/><circle cx="258.1" cy="125.3" r="2.3" fill="url(#gTeal)"/><circle cx="258.1" cy="130.1" r="2.3" fill="url(#gTeal)"/><circle cx="258.1" cy="134.9" r="2.3" fill="url(#gTeal)"/><circle cx="258.1" cy="139.7" r="2.3" fill="url(#gTeal)"/><circle cx="258.1" cy="144.5" r="2.3" fill="url(#gTeal)"/><circle cx="258.1" cy="149.3" r="2.3" fill="url(#gTeal)"/><circle cx="258.1" cy="154.1" r="2.3" fill="url(#gTeal)"/><circle cx="258.1" cy="158.9" r="2.3" fill="url(#gTeal)"/><circle cx="258.1" cy="163.7" r="2.3" fill="url(#gTeal)"/><circle cx="258.1" cy="168.5" r="2.3" fill="url(#gTeal)"/><circle cx="258.1" cy="173.3" r="2.3" fill="url(#gTeal)"/><circle cx="258.1" cy="178.1" r="2.3" fill="url(#gTeal)"/><circle cx="258.1" cy="182.9" r="2.3" fill="url(#gTeal)"/><circle cx="258.1" cy="187.7" r="2.3" fill="url(#gTeal)"/><circle cx="258.1" cy="192.5" r="2.3" fill="url(#gTeal)"/><circle cx="258.1" cy="197.3" r="2.3" fill="url(#gTeal)"/><circle cx="258.1" cy="202.1" r="2.3" fill="url(#gTeal)"/><circle cx="276.7" cy="96.5" r="2.3" fill="url(#gTeal)"/><circle cx="276.7" cy="101.3" r="2.3" fill="url(#gTeal)"/><circle cx="276.7" cy="106.1" r="2.3" fill="url(#gTeal)"/><circle cx="276.7" cy="110.9" r="2.3" fill="url(#gTeal)"/><circle cx="276.7" cy="115.7" r="2.3" fill="url(#gTeal)"/><circle cx="276.7" cy="120.5" r="2.3" fill="url(#gTeal)"/><circle cx="276.7" cy="125.3" r="2.3" fill="url(#gTeal)"/><circle cx="276.7" cy="130.1" r="2.3" fill="url(#gTeal)"/><circle cx="276.7" cy="134.9" r="2.3" fill="url(#gTeal)"/><circle cx="276.7" cy="139.7" r="2.3" fill="url(#gTeal)"/><circle cx="276.7" cy="144.5" r="2.3" fill="url(#gTeal)"/><circle cx="276.7" cy="149.3" r="2.3" fill="url(#gTeal)"/><circle cx="276.7" cy="154.1" r="2.3" fill="url(#gTeal)"/><circle cx="276.7" cy="158.9" r="2.3" fill="url(#gTeal)"/><circle cx="276.7" cy="163.7" r="2.3" fill="url(#gTeal)"/><circle cx="276.7" cy="168.5" r="2.3" fill="url(#gTeal)"/><circle cx="276.7" cy="173.3" r="2.3" fill="url(#gTeal)"/><circle cx="276.7" cy="178.1" r="2.3" fill="url(#gTeal)"/><circle cx="276.7" cy="182.9" r="2.3" fill="url(#gTeal)"/><circle cx="276.7" cy="187.7" r="2.3" fill="url(#gTeal)"/><circle cx="276.7" cy="192.5" r="2.3" fill="url(#gTeal)"/><circle cx="276.7" cy="197.3" r="2.3" fill="url(#gTeal)"/><circle cx="276.7" cy="202.1" r="2.3" fill="url(#gTeal)"/><circle cx="296.1" cy="96.5" r="2.3" fill="url(#gTeal)"/><circle cx="296.1" cy="101.3" r="2.3" fill="url(#gTeal)"/><circle cx="296.1" cy="106.1" r="2.3" fill="url(#gTeal)"/><circle cx="296.1" cy="110.9" r="2.3" fill="url(#gTeal)"/><circle cx="296.1" cy="115.7" r="2.3" fill="url(#gTeal)"/><circle cx="296.1" cy="120.5" r="2.3" fill="url(#gTeal)"/><circle cx="296.1" cy="125.3" r="2.3" fill="url(#gTeal)"/><circle cx="296.1" cy="130.1" r="2.3" fill="url(#gTeal)"/><circle cx="296.1" cy="134.9" r="2.3" fill="url(#gTeal)"/><circle cx="296.1" cy="139.7" r="2.3" fill="url(#gTeal)"/><circle cx="296.1" cy="144.5" r="2.3" fill="url(#gTeal)"/><circle cx="296.1" cy="149.3" r="2.3" fill="url(#gTeal)"/><circle cx="296.1" cy="154.1" r="2.3" fill="url(#gTeal)"/><circle cx="296.1" cy="158.9" r="2.3" fill="url(#gTeal)"/><circle cx="296.1" cy="163.7" r="2.3" fill="url(#gTeal)"/><circle cx="296.1" cy="168.5" r="2.3" fill="url(#gTeal)"/><circle cx="296.1" cy="173.3" r="2.3" fill="url(#gTeal)"/><circle cx="296.1" cy="178.1" r="2.3" fill="url(#gTeal)"/><circle cx="296.1" cy="182.9" r="2.3" fill="url(#gTeal)"/><circle cx="296.1" cy="187.7" r="2.3" fill="url(#gTeal)"/><circle cx="296.1" cy="192.5" r="2.3" fill="url(#gTeal)"/><circle cx="296.1" cy="197.3" r="2.3" fill="url(#gTeal)"/><circle cx="296.1" cy="202.1" r="2.3" fill="url(#gTeal)"/><circle cx="314.7" cy="96.5" r="2.3" fill="url(#gTeal)"/><circle cx="314.7" cy="101.3" r="2.3" fill="url(#gTeal)"/><circle cx="314.7" cy="106.1" r="2.3" fill="url(#gTeal)"/><circle cx="314.7" cy="110.9" r="2.3" fill="url(#gTeal)"/><circle cx="314.7" cy="115.7" r="2.3" fill="url(#gTeal)"/><circle cx="314.7" cy="120.5" r="2.3" fill="url(#gTeal)"/><circle cx="314.7" cy="125.3" r="2.3" fill="url(#gTeal)"/><circle cx="314.7" cy="130.1" r="2.3" fill="url(#gTeal)"/><circle cx="314.7" cy="134.9" r="2.3" fill="url(#gTeal)"/><circle cx="314.7" cy="139.7" r="2.3" fill="url(#gTeal)"/><circle cx="314.7" cy="144.5" r="2.3" fill="url(#gTeal)"/><circle cx="314.7" cy="149.3" r="2.3" fill="url(#gTeal)"/><circle cx="314.7" cy="154.1" r="2.3" fill="url(#gTeal)"/><circle cx="314.7" cy="158.9" r="2.3" fill="url(#gTeal)"/><circle cx="314.7" cy="163.7" r="2.3" fill="url(#gTeal)"/><circle cx="314.7" cy="168.5" r="2.3" fill="url(#gTeal)"/><circle cx="314.7" cy="173.3" r="2.3" fill="url(#gTeal)"/><circle cx="314.7" cy="178.1" r="2.3" fill="url(#gTeal)"/><circle cx="314.7" cy="182.9" r="2.3" fill="url(#gTeal)"/><circle cx="314.7" cy="187.7" r="2.3" fill="url(#gTeal)"/><circle cx="314.7" cy="192.5" r="2.3" fill="url(#gTeal)"/><circle cx="314.7" cy="197.3" r="2.3" fill="url(#gTeal)"/><circle cx="314.7" cy="202.1" r="2.3" fill="url(#gTeal)"/><circle cx="224.3" cy="95.8" r="2.3" fill="url(#gTeal)"/><circle cx="229.3" cy="95.8" r="2.3" fill="url(#gTeal)"/><circle cx="234.3" cy="95.8" r="2.3" fill="url(#gTeal)"/><circle cx="224.3" cy="207.2" r="2.3" fill="url(#gTeal)"/><circle cx="229.3" cy="207.2" r="2.3" fill="url(#gTeal)"/><circle cx="234.3" cy="207.2" r="2.3" fill="url(#gTeal)"/><circle cx="262.4" cy="95.8" r="2.3" fill="url(#gTeal)"/><circle cx="267.4" cy="95.8" r="2.3" fill="url(#gTeal)"/><circle cx="272.4" cy="95.8" r="2.3" fill="url(#gTeal)"/><circle cx="262.4" cy="207.2" r="2.3" fill="url(#gTeal)"/><circle cx="267.4" cy="207.2" r="2.3" fill="url(#gTeal)"/><circle cx="272.4" cy="207.2" r="2.3" fill="url(#gTeal)"/><circle cx="300.4" cy="95.8" r="2.3" fill="url(#gTeal)"/><circle cx="305.4" cy="95.8" r="2.3" fill="url(#gTeal)"/><circle cx="310.4" cy="95.8" r="2.3" fill="url(#gTeal)"/><circle cx="300.4" cy="207.2" r="2.3" fill="url(#gTeal)"/><circle cx="305.4" cy="207.2" r="2.3" fill="url(#gTeal)"/><circle cx="310.4" cy="207.2" r="2.3" fill="url(#gTeal)"/><circle cx="208.7" cy="111.6" r="2.3" fill="url(#gTeal)"/><circle cx="208.7" cy="116.1" r="2.3" fill="url(#gTeal)"/><circle cx="208.7" cy="120.6" r="2.3" fill="url(#gTeal)"/><circle cx="323.8" cy="111.6" r="2.3" fill="url(#gTeal)"/><circle cx="323.8" cy="116.1" r="2.3" fill="url(#gTeal)"/><circle cx="323.8" cy="120.6" r="2.3" fill="url(#gTeal)"/><circle cx="208.7" cy="148.0" r="2.3" fill="url(#gTeal)"/><circle cx="208.7" cy="152.5" r="2.3" fill="url(#gTeal)"/><circle cx="208.7" cy="157.0" r="2.3" fill="url(#gTeal)"/><circle cx="323.8" cy="148.0" r="2.3" fill="url(#gTeal)"/><circle cx="323.8" cy="152.5" r="2.3" fill="url(#gTeal)"/><circle cx="323.8" cy="157.0" r="2.3" fill="url(#gTeal)"/><circle cx="208.7" cy="184.4" r="2.3" fill="url(#gTeal)"/><circle cx="208.7" cy="188.9" r="2.3" fill="url(#gTeal)"/><circle cx="208.7" cy="193.4" r="2.3" fill="url(#gTeal)"/><circle cx="323.8" cy="184.4" r="2.3" fill="url(#gTeal)"/><circle cx="323.8" cy="188.9" r="2.3" fill="url(#gTeal)"/><circle cx="323.8" cy="193.4" r="2.3" fill="url(#gTeal)"/></g>
<rect x="238.8" y="124.8" width="19" height="19" rx="5" fill="#fbfbfb"/>
<circle cx="248.3" cy="125.0" r="2.3" fill="#e6e6e6" stroke="#a8a8a8" stroke-width="0.7"/>
<circle cx="248.3" cy="143.6" r="2.3" fill="#e6e6e6" stroke="#a8a8a8" stroke-width="0.7"/>
<circle cx="239.0" cy="134.3" r="2.3" fill="#e6e6e6" stroke="#a8a8a8" stroke-width="0.7"/>
<circle cx="257.6" cy="134.3" r="2.3" fill="#e6e6e6" stroke="#a8a8a8" stroke-width="0.7"/>
<path d="M239.3,125.3 L243.8,129.8" stroke="#b8b8b8" stroke-width="3.2" stroke-linecap="round"/>
<path d="M239.3,125.3 L243.3,129.3" stroke="#e8e8e8" stroke-width="1.4" stroke-linecap="round"/>
<path d="M257.4,125.3 L252.8,129.8" stroke="#b8b8b8" stroke-width="3.2" stroke-linecap="round"/>
<path d="M257.4,125.3 L253.3,129.3" stroke="#e8e8e8" stroke-width="1.4" stroke-linecap="round"/>
<path d="M239.3,143.3 L243.8,138.8" stroke="#b8b8b8" stroke-width="3.2" stroke-linecap="round"/>
<path d="M239.3,143.3 L243.3,139.3" stroke="#e8e8e8" stroke-width="1.4" stroke-linecap="round"/>
<path d="M257.4,143.3 L252.8,138.8" stroke="#b8b8b8" stroke-width="3.2" stroke-linecap="round"/>
<path d="M257.4,143.3 L253.3,139.3" stroke="#e8e8e8" stroke-width="1.4" stroke-linecap="round"/>
<rect x="238.8" y="161.2" width="19" height="19" rx="5" fill="#fbfbfb"/>
<circle cx="248.3" cy="161.4" r="2.3" fill="#e6e6e6" stroke="#a8a8a8" stroke-width="0.7"/>
<circle cx="248.3" cy="180.0" r="2.3" fill="#e6e6e6" stroke="#a8a8a8" stroke-width="0.7"/>
<circle cx="239.0" cy="170.7" r="2.3" fill="#e6e6e6" stroke="#a8a8a8" stroke-width="0.7"/>
<circle cx="257.6" cy="170.7" r="2.3" fill="#e6e6e6" stroke="#a8a8a8" stroke-width="0.7"/>
<path d="M239.3,161.7 L243.8,166.2" stroke="#b8b8b8" stroke-width="3.2" stroke-linecap="round"/>
<path d="M239.3,161.7 L243.3,165.7" stroke="#e8e8e8" stroke-width="1.4" stroke-linecap="round"/>
<path d="M257.4,161.7 L252.8,166.2" stroke="#b8b8b8" stroke-width="3.2" stroke-linecap="round"/>
<path d="M257.4,161.7 L253.3,165.7" stroke="#e8e8e8" stroke-width="1.4" stroke-linecap="round"/>
<path d="M239.3,179.7 L243.8,175.2" stroke="#b8b8b8" stroke-width="3.2" stroke-linecap="round"/>
<path d="M239.3,179.7 L243.3,175.7" stroke="#e8e8e8" stroke-width="1.4" stroke-linecap="round"/>
<path d="M257.4,179.7 L252.8,175.2" stroke="#b8b8b8" stroke-width="3.2" stroke-linecap="round"/>
<path d="M257.4,179.7 L253.3,175.7" stroke="#e8e8e8" stroke-width="1.4" stroke-linecap="round"/>
<rect x="276.9" y="124.8" width="19" height="19" rx="5" fill="#fbfbfb"/>
<circle cx="286.4" cy="125.0" r="2.3" fill="#e6e6e6" stroke="#a8a8a8" stroke-width="0.7"/>
<circle cx="286.4" cy="143.6" r="2.3" fill="#e6e6e6" stroke="#a8a8a8" stroke-width="0.7"/>
<circle cx="277.1" cy="134.3" r="2.3" fill="#e6e6e6" stroke="#a8a8a8" stroke-width="0.7"/>
<circle cx="295.7" cy="134.3" r="2.3" fill="#e6e6e6" stroke="#a8a8a8" stroke-width="0.7"/>
<path d="M277.4,125.3 L281.9,129.8" stroke="#b8b8b8" stroke-width="3.2" stroke-linecap="round"/>
<path d="M277.4,125.3 L281.4,129.3" stroke="#e8e8e8" stroke-width="1.4" stroke-linecap="round"/>
<path d="M295.4,125.3 L290.9,129.8" stroke="#b8b8b8" stroke-width="3.2" stroke-linecap="round"/>
<path d="M295.4,125.3 L291.4,129.3" stroke="#e8e8e8" stroke-width="1.4" stroke-linecap="round"/>
<path d="M277.4,143.3 L281.9,138.8" stroke="#b8b8b8" stroke-width="3.2" stroke-linecap="round"/>
<path d="M277.4,143.3 L281.4,139.3" stroke="#e8e8e8" stroke-width="1.4" stroke-linecap="round"/>
<path d="M295.4,143.3 L290.9,138.8" stroke="#b8b8b8" stroke-width="3.2" stroke-linecap="round"/>
<path d="M295.4,143.3 L291.4,139.3" stroke="#e8e8e8" stroke-width="1.4" stroke-linecap="round"/>
<rect x="276.9" y="161.2" width="19" height="19" rx="5" fill="#fbfbfb"/>
<circle cx="286.4" cy="161.4" r="2.3" fill="#e6e6e6" stroke="#a8a8a8" stroke-width="0.7"/>
<circle cx="286.4" cy="180.0" r="2.3" fill="#e6e6e6" stroke="#a8a8a8" stroke-width="0.7"/>
<circle cx="277.1" cy="170.7" r="2.3" fill="#e6e6e6" stroke="#a8a8a8" stroke-width="0.7"/>
<circle cx="295.7" cy="170.7" r="2.3" fill="#e6e6e6" stroke="#a8a8a8" stroke-width="0.7"/>
<path d="M277.4,161.7 L281.9,166.2" stroke="#b8b8b8" stroke-width="3.2" stroke-linecap="round"/>
<path d="M277.4,161.7 L281.4,165.7" stroke="#e8e8e8" stroke-width="1.4" stroke-linecap="round"/>
<path d="M295.4,161.7 L290.9,166.2" stroke="#b8b8b8" stroke-width="3.2" stroke-linecap="round"/>
<path d="M295.4,161.7 L291.4,165.7" stroke="#e8e8e8" stroke-width="1.4" stroke-linecap="round"/>
<path d="M277.4,179.7 L281.9,175.2" stroke="#b8b8b8" stroke-width="3.2" stroke-linecap="round"/>
<path d="M277.4,179.7 L281.4,175.7" stroke="#e8e8e8" stroke-width="1.4" stroke-linecap="round"/>
<path d="M295.4,179.7 L290.9,175.2" stroke="#b8b8b8" stroke-width="3.2" stroke-linecap="round"/>
<path d="M295.4,179.7 L291.4,175.7" stroke="#e8e8e8" stroke-width="1.4" stroke-linecap="round"/>
<circle cx="248.3" cy="106.0" r="2.2" fill="#dedede"/>
<circle cx="248.3" cy="199.0" r="2.2" fill="#dedede"/>
<circle cx="286.4" cy="106.0" r="2.2" fill="#dedede"/>
<circle cx="286.4" cy="199.0" r="2.2" fill="#dedede"/>
<circle cx="218.5" cy="134.3" r="2.2" fill="#dedede"/>
<circle cx="316.5" cy="134.3" r="2.2" fill="#dedede"/>
<circle cx="218.5" cy="170.7" r="2.2" fill="#dedede"/>
<circle cx="316.5" cy="170.7" r="2.2" fill="#dedede"/>
<circle cx="218.3" cy="105.8" r="2.8" fill="#b8b020" opacity="0.8"/>
<circle cx="240.3" cy="105.8" r="2.8" fill="#b8b020" opacity="0.8"/>
<circle cx="218.3" cy="126.4" r="2.8" fill="#b8b020" opacity="0.8"/>
<circle cx="240.3" cy="126.4" r="2.8" fill="#b8b020" opacity="0.8"/>
<circle cx="229.3" cy="109.5" r="2.8" fill="url(#gYel)"/>
<circle cx="236.1" cy="116.1" r="2.8" fill="url(#gYel)"/>
<circle cx="229.3" cy="122.7" r="2.8" fill="url(#gYel)"/>
<circle cx="222.5" cy="116.1" r="2.8" fill="url(#gYel)"/>
<circle cx="219.5" cy="106.9" r="2.8" fill="url(#gYel)"/>
<circle cx="239.1" cy="106.9" r="2.8" fill="url(#gYel)"/>
<circle cx="219.5" cy="125.3" r="2.8" fill="url(#gYel)"/>
<circle cx="239.1" cy="125.3" r="2.8" fill="url(#gYel)"/>
<circle cx="229.3" cy="116.1" r="3.9" fill="url(#gRedO)"/>
<circle cx="218.3" cy="142.2" r="2.8" fill="#b8b020" opacity="0.8"/>
<circle cx="240.3" cy="142.2" r="2.8" fill="#b8b020" opacity="0.8"/>
<circle cx="218.3" cy="162.8" r="2.8" fill="#b8b020" opacity="0.8"/>
<circle cx="240.3" cy="162.8" r="2.8" fill="#b8b020" opacity="0.8"/>
<circle cx="229.3" cy="145.9" r="2.8" fill="url(#gYel)"/>
<circle cx="236.1" cy="152.5" r="2.8" fill="url(#gYel)"/>
<circle cx="229.3" cy="159.1" r="2.8" fill="url(#gYel)"/>
<circle cx="222.5" cy="152.5" r="2.8" fill="url(#gYel)"/>
<circle cx="219.5" cy="143.3" r="2.8" fill="url(#gYel)"/>
<circle cx="239.1" cy="143.3" r="2.8" fill="url(#gYel)"/>
<circle cx="219.5" cy="161.7" r="2.8" fill="url(#gYel)"/>
<circle cx="239.1" cy="161.7" r="2.8" fill="url(#gYel)"/>
<circle cx="229.3" cy="152.5" r="3.9" fill="url(#gRedO)"/>
<circle cx="218.3" cy="178.6" r="2.8" fill="#b8b020" opacity="0.8"/>
<circle cx="240.3" cy="178.6" r="2.8" fill="#b8b020" opacity="0.8"/>
<circle cx="218.3" cy="199.2" r="2.8" fill="#b8b020" opacity="0.8"/>
<circle cx="240.3" cy="199.2" r="2.8" fill="#b8b020" opacity="0.8"/>
<circle cx="229.3" cy="182.3" r="2.8" fill="url(#gYel)"/>
<circle cx="236.1" cy="188.9" r="2.8" fill="url(#gYel)"/>
<circle cx="229.3" cy="195.5" r="2.8" fill="url(#gYel)"/>
<circle cx="222.5" cy="188.9" r="2.8" fill="url(#gYel)"/>
<circle cx="219.5" cy="179.7" r="2.8" fill="url(#gYel)"/>
<circle cx="239.1" cy="179.7" r="2.8" fill="url(#gYel)"/>
<circle cx="219.5" cy="198.1" r="2.8" fill="url(#gYel)"/>
<circle cx="239.1" cy="198.1" r="2.8" fill="url(#gYel)"/>
<circle cx="229.3" cy="188.9" r="3.9" fill="url(#gRedO)"/>
<circle cx="256.4" cy="105.8" r="2.8" fill="#b8b020" opacity="0.8"/>
<circle cx="278.4" cy="105.8" r="2.8" fill="#b8b020" opacity="0.8"/>
<circle cx="256.4" cy="126.4" r="2.8" fill="#b8b020" opacity="0.8"/>
<circle cx="278.4" cy="126.4" r="2.8" fill="#b8b020" opacity="0.8"/>
<circle cx="267.4" cy="109.5" r="2.8" fill="url(#gYel)"/>
<circle cx="274.2" cy="116.1" r="2.8" fill="url(#gYel)"/>
<circle cx="267.4" cy="122.7" r="2.8" fill="url(#gYel)"/>
<circle cx="260.6" cy="116.1" r="2.8" fill="url(#gYel)"/>
<circle cx="257.6" cy="106.9" r="2.8" fill="url(#gYel)"/>
<circle cx="277.2" cy="106.9" r="2.8" fill="url(#gYel)"/>
<circle cx="257.6" cy="125.3" r="2.8" fill="url(#gYel)"/>
<circle cx="277.2" cy="125.3" r="2.8" fill="url(#gYel)"/>
<circle cx="267.4" cy="116.1" r="3.9" fill="url(#gRedO)"/>
<circle cx="256.4" cy="142.2" r="2.8" fill="#b8b020" opacity="0.8"/>
<circle cx="278.4" cy="142.2" r="2.8" fill="#b8b020" opacity="0.8"/>
<circle cx="256.4" cy="162.8" r="2.8" fill="#b8b020" opacity="0.8"/>
<circle cx="278.4" cy="162.8" r="2.8" fill="#b8b020" opacity="0.8"/>
<circle cx="267.4" cy="145.9" r="2.8" fill="url(#gYel)"/>
<circle cx="274.2" cy="152.5" r="2.8" fill="url(#gYel)"/>
<circle cx="267.4" cy="159.1" r="2.8" fill="url(#gYel)"/>
<circle cx="260.6" cy="152.5" r="2.8" fill="url(#gYel)"/>
<circle cx="257.6" cy="143.3" r="2.8" fill="url(#gYel)"/>
<circle cx="277.2" cy="143.3" r="2.8" fill="url(#gYel)"/>
<circle cx="257.6" cy="161.7" r="2.8" fill="url(#gYel)"/>
<circle cx="277.2" cy="161.7" r="2.8" fill="url(#gYel)"/>
<circle cx="267.4" cy="152.5" r="3.9" fill="url(#gRedO)"/>
<circle cx="256.4" cy="178.6" r="2.8" fill="#b8b020" opacity="0.8"/>
<circle cx="278.4" cy="178.6" r="2.8" fill="#b8b020" opacity="0.8"/>
<circle cx="256.4" cy="199.2" r="2.8" fill="#b8b020" opacity="0.8"/>
<circle cx="278.4" cy="199.2" r="2.8" fill="#b8b020" opacity="0.8"/>
<circle cx="267.4" cy="182.3" r="2.8" fill="url(#gYel)"/>
<circle cx="274.2" cy="188.9" r="2.8" fill="url(#gYel)"/>
<circle cx="267.4" cy="195.5" r="2.8" fill="url(#gYel)"/>
<circle cx="260.6" cy="188.9" r="2.8" fill="url(#gYel)"/>
<circle cx="257.6" cy="179.7" r="2.8" fill="url(#gYel)"/>
<circle cx="277.2" cy="179.7" r="2.8" fill="url(#gYel)"/>
<circle cx="257.6" cy="198.1" r="2.8" fill="url(#gYel)"/>
<circle cx="277.2" cy="198.1" r="2.8" fill="url(#gYel)"/>
<circle cx="267.4" cy="188.9" r="3.9" fill="url(#gRedO)"/>
<circle cx="294.4" cy="105.8" r="2.8" fill="#b8b020" opacity="0.8"/>
<circle cx="316.4" cy="105.8" r="2.8" fill="#b8b020" opacity="0.8"/>
<circle cx="294.4" cy="126.4" r="2.8" fill="#b8b020" opacity="0.8"/>
<circle cx="316.4" cy="126.4" r="2.8" fill="#b8b020" opacity="0.8"/>
<circle cx="305.4" cy="109.5" r="2.8" fill="url(#gYel)"/>
<circle cx="312.2" cy="116.1" r="2.8" fill="url(#gYel)"/>
<circle cx="305.4" cy="122.7" r="2.8" fill="url(#gYel)"/>
<circle cx="298.6" cy="116.1" r="2.8" fill="url(#gYel)"/>
<circle cx="295.6" cy="106.9" r="2.8" fill="url(#gYel)"/>
<circle cx="315.2" cy="106.9" r="2.8" fill="url(#gYel)"/>
<circle cx="295.6" cy="125.3" r="2.8" fill="url(#gYel)"/>
<circle cx="315.2" cy="125.3" r="2.8" fill="url(#gYel)"/>
<circle cx="305.4" cy="116.1" r="3.9" fill="url(#gRedO)"/>
<circle cx="294.4" cy="142.2" r="2.8" fill="#b8b020" opacity="0.8"/>
<circle cx="316.4" cy="142.2" r="2.8" fill="#b8b020" opacity="0.8"/>
<circle cx="294.4" cy="162.8" r="2.8" fill="#b8b020" opacity="0.8"/>
<circle cx="316.4" cy="162.8" r="2.8" fill="#b8b020" opacity="0.8"/>
<circle cx="305.4" cy="145.9" r="2.8" fill="url(#gYel)"/>
<circle cx="312.2" cy="152.5" r="2.8" fill="url(#gYel)"/>
<circle cx="305.4" cy="159.1" r="2.8" fill="url(#gYel)"/>
<circle cx="298.6" cy="152.5" r="2.8" fill="url(#gYel)"/>
<circle cx="295.6" cy="143.3" r="2.8" fill="url(#gYel)"/>
<circle cx="315.2" cy="143.3" r="2.8" fill="url(#gYel)"/>
<circle cx="295.6" cy="161.7" r="2.8" fill="url(#gYel)"/>
<circle cx="315.2" cy="161.7" r="2.8" fill="url(#gYel)"/>
<circle cx="305.4" cy="152.5" r="3.9" fill="url(#gRedO)"/>
<circle cx="294.4" cy="178.6" r="2.8" fill="#b8b020" opacity="0.8"/>
<circle cx="316.4" cy="178.6" r="2.8" fill="#b8b020" opacity="0.8"/>
<circle cx="294.4" cy="199.2" r="2.8" fill="#b8b020" opacity="0.8"/>
<circle cx="316.4" cy="199.2" r="2.8" fill="#b8b020" opacity="0.8"/>
<circle cx="305.4" cy="182.3" r="2.8" fill="url(#gYel)"/>
<circle cx="312.2" cy="188.9" r="2.8" fill="url(#gYel)"/>
<circle cx="305.4" cy="195.5" r="2.8" fill="url(#gYel)"/>
<circle cx="298.6" cy="188.9" r="2.8" fill="url(#gYel)"/>
<circle cx="295.6" cy="179.7" r="2.8" fill="url(#gYel)"/>
<circle cx="315.2" cy="179.7" r="2.8" fill="url(#gYel)"/>
<circle cx="295.6" cy="198.1" r="2.8" fill="url(#gYel)"/>
<circle cx="315.2" cy="198.1" r="2.8" fill="url(#gYel)"/>
<circle cx="305.4" cy="188.9" r="3.9" fill="url(#gRedO)"/>
<circle cx="282.0" cy="83.9" r="3.1" fill="url(#gRedO)"/>
<circle cx="288.0" cy="82.9" r="3.1" fill="url(#gRedO)"/>
<circle cx="292.0" cy="86.9" r="3.1" fill="url(#gRedO)"/>
<circle cx="280.0" cy="89.9" r="3.1" fill="url(#gRedO)"/>
<circle cx="286.0" cy="88.9" r="3.1" fill="url(#gRedO)"/>
<circle cx="291.0" cy="92.9" r="3.1" fill="url(#gRedO)"/>
<circle cx="283.0" cy="93.9" r="3.1" fill="url(#gRedO)"/>
<circle cx="288.0" cy="95.9" r="3.1" fill="url(#gRedO)"/>
<circle cx="280.0" cy="85.9" r="3.1" fill="url(#gRedO)"/>
<circle cx="243.5" cy="207.5" r="3.1" fill="url(#gRedO)"/>
<circle cx="249.5" cy="206.5" r="3.1" fill="url(#gRedO)"/>
<circle cx="253.5" cy="210.5" r="3.1" fill="url(#gRedO)"/>
<circle cx="241.5" cy="213.5" r="3.1" fill="url(#gRedO)"/>
<circle cx="247.5" cy="212.5" r="3.1" fill="url(#gRedO)"/>
<circle cx="252.5" cy="216.5" r="3.1" fill="url(#gRedO)"/>
<circle cx="244.5" cy="217.5" r="3.1" fill="url(#gRedO)"/>
<circle cx="249.5" cy="219.5" r="3.1" fill="url(#gRedO)"/>
<circle cx="241.5" cy="209.5" r="3.1" fill="url(#gRedO)"/>
<path d="M380.5,195.9 L491.4,195.9" stroke="#8c8c8c" stroke-width="2.1" fill="none" stroke-linecap="round" />
<path d="M394.0,139.8 L478.5,139.5" stroke="#8c8c8c" stroke-width="1.7" fill="none" stroke-linecap="round" />
<path d="M393.0,152.0 L380.5,195.9" stroke="#c0c0c0" stroke-width="1.4" fill="none" stroke-linecap="round" stroke-dasharray="0.8 0.8"/>
<path d="M483.0,150.0 L489.5,190.0" stroke="#9a9a9a" stroke-width="1.5" fill="none" stroke-linecap="round" />
<path d="M437.0,89.0 L394.0,139.8" stroke="#5a5a5a" stroke-width="1.9" fill="none" stroke-linecap="round" />
<path d="M440.0,95.0 L478.5,139.5" stroke="#6a6a6a" stroke-width="1.7" fill="none" stroke-linecap="round" />
<path d="M440.0,96.0 L491.4,195.9" stroke="#6e6e6e" stroke-width="1.6" fill="none" stroke-linecap="round" />
<polygon points="433.5,94 438.5,95.5 384.5,192 380.5,190" fill="#c6c6c6"/>
<path d="M433.5,94.0 L380.5,190.0" stroke="#a0a0a0" stroke-width="0.9" fill="none" stroke-linecap="round" />
<polygon points="439,95 442,95 491,190 488.5,191" fill="#b4b4b4"/>
<g transform="translate(412,122) rotate(-62)"><polygon points="-8,-4 -3,-5.5 8,-3.5 8,3 3,5 -8,3.5" fill="#a6a6a6"/></g>
<g transform="translate(461,119) rotate(-60)"><polygon points="-7.5,-4 -3,-5 7.5,-3 7.5,3 3,4.5 -7.5,3.5" fill="#a8a8a8"/></g>
<g transform="translate(406,146.5) rotate(-70)"><polygon points="-10,-4.5 -4,-6 10,-4 10,4 4,5.5 -10,4.5" fill="#b2b2b2"/></g>
<g transform="translate(463,148.5) rotate(62)"><polygon points="-10,-4.5 -4,-6 10,-4 10,4 4,5.5 -10,4.5" fill="#6e6e6e"/></g>
<path d="M410.0,118.0 L399.0,111.0" stroke="#7a7a7a" stroke-width="1.3" fill="none" stroke-linecap="round" />
<path d="M399.0,111.0 L400.8,104.0" stroke="#7a7a7a" stroke-width="1.2" fill="none" stroke-linecap="round" />
<path d="M399.0,111.0 L394.5,114.0" stroke="#7a7a7a" stroke-width="1.2" fill="none" stroke-linecap="round" />
<circle cx="400.8" cy="104" r="2" fill="url(#gBallR)"/>
<circle cx="394.5" cy="114" r="2" fill="url(#gBallR)"/>
<path d="M464.0,113.0 L467.0,106.0" stroke="#7a7a7a" stroke-width="1.3" fill="none" stroke-linecap="round" />
<circle cx="467" cy="106.5" r="2" fill="url(#gBallR)"/>
<path d="M468.5,105.5 L472.0,104.5" stroke="#40d0c8" stroke-width="1.3" fill="none" stroke-linecap="round" />
<path d="M436.0,150.0 L432.0,133.5" stroke="#b02a20" stroke-width="1.1" fill="none" stroke-linecap="round" />
<path d="M436.0,150.0 L416.5,141.0" stroke="#b02a20" stroke-width="1.1" fill="none" stroke-linecap="round" />
<path d="M436.0,150.0 L424.0,143.0" stroke="#b02a20" stroke-width="1.1" fill="none" stroke-linecap="round" />
<path d="M436.0,150.0 L427.5,153.0" stroke="#b02a20" stroke-width="1.1" fill="none" stroke-linecap="round" />
<path d="M436.0,150.0 L431.0,161.0" stroke="#b02a20" stroke-width="1.1" fill="none" stroke-linecap="round" />
<path d="M436.0,150.0 L437.5,165.0" stroke="#b02a20" stroke-width="1.1" fill="none" stroke-linecap="round" />
<path d="M436.0,150.0 L444.0,140.5" stroke="#b02a20" stroke-width="1.1" fill="none" stroke-linecap="round" />
<path d="M436.0,150.0 L444.0,147.0" stroke="#b02a20" stroke-width="1.1" fill="none" stroke-linecap="round" />
<path d="M436.0,150.0 L446.0,141.0" stroke="#b02a20" stroke-width="1.1" fill="none" stroke-linecap="round" />
<path d="M436.0,150.0 L448.0,156.0" stroke="#b02a20" stroke-width="1.1" fill="none" stroke-linecap="round" />
<path d="M436.0,150.0 L454.0,138.5" stroke="#b02a20" stroke-width="1.1" fill="none" stroke-linecap="round" />
<path d="M416.5,141.0 L424.0,148.0" stroke="#40d0c8" stroke-width="1.3" fill="none" stroke-linecap="round" />
<path d="M446.0,141.0 L452.0,137.0" stroke="#40d0c8" stroke-width="1.3" fill="none" stroke-linecap="round" />
<path d="M393.0,152.0 L389.0,158.0" stroke="#40d0c8" stroke-width="1.4" fill="none" stroke-linecap="round" />
<path d="M428.0,138.0 L424.0,133.0" stroke="#808080" stroke-width="1.1" fill="none" stroke-linecap="round" />
<circle cx="432" cy="133.5" r="1.9" fill="url(#gBallR)"/>
<circle cx="416.5" cy="141" r="1.9" fill="url(#gBallR)"/>
<circle cx="424" cy="143" r="1.9" fill="url(#gBallR)"/>
<circle cx="427.5" cy="153" r="1.9" fill="url(#gBallR)"/>
<circle cx="431" cy="161" r="1.9" fill="url(#gBallR)"/>
<circle cx="437.5" cy="165" r="1.9" fill="url(#gBallR)"/>
<circle cx="444" cy="140.5" r="1.9" fill="url(#gBallR)"/>
<circle cx="444" cy="147" r="1.9" fill="url(#gBallR)"/>
<circle cx="446" cy="141" r="1.9" fill="url(#gBallR)"/>
<circle cx="448" cy="156" r="1.9" fill="url(#gBallR)"/>
<circle cx="454" cy="138.5" r="1.9" fill="url(#gBallR)"/>
<circle cx="393" cy="152" r="2.2" fill="url(#gBallR)"/>
<circle cx="483" cy="157.5" r="2.1" fill="url(#gBallR)"/>
<circle cx="436" cy="150" r="2.7" fill="#f0a020"/>
<circle cx="437" cy="89" r="7.2" fill="url(#gBlue)"/>
<circle cx="394" cy="139.8" r="5.6" fill="url(#gBlue)"/>
<circle cx="478.5" cy="139.5" r="5.6" fill="url(#gBlue)"/>
<circle cx="380.5" cy="195.9" r="7.4" fill="url(#gBlue)"/>
<circle cx="491.4" cy="195.9" r="7.4" fill="url(#gBlue)"/>
<circle cx="478.5" cy="140" r="2.2" fill="url(#gBallR)"/>
<text x="423.6" y="209.9" font-weight="bold" font-size="10.4" textLength="22.6" lengthAdjust="spacingAndGlyphs" style="fill:#b98c6c;font-family:'Liberation Sans',sans-serif">MUU</text>
<text x="447" y="212" font-weight="bold" font-style="italic" font-size="7.5" style="fill:#c49270;font-family:'Liberation Sans',sans-serif">fm</text>
<circle cx="609.6" cy="148.2" r="66.5" fill="#e5ddd6" stroke="#8c8c8c" stroke-width="1.4" stroke-dasharray="3.4 2.4"/>
<path d="M606.9,112.1C608.7,108.2 616.3,107.1 622.9,106.4C629.5,105.7 633.6,106.4 640.0,108.7C646.4,111.0 650.1,113.0 654.9,117.9C659.7,122.8 662.0,127.3 664.0,133.0C666.0,138.7 665.8,140.3 665.1,146.4C664.4,152.5 663.6,157.9 660.6,163.6C657.6,169.3 653.3,172.7 650.3,175.0C647.3,177.3 647.1,178.2 645.7,175.0C644.3,171.8 644.3,164.7 643.4,159.0C642.5,153.3 642.9,151.0 641.1,146.4C639.3,141.8 637.5,139.5 634.3,136.1C631.1,132.7 629.2,131.3 625.1,129.3C621.0,127.3 617.3,129.3 613.7,125.9C610.1,122.5 605.1,116.0 606.9,112.1Z" fill="#f1b58e"/>
<path d="M567.9,125.7C564.0,126.1 561.6,131.8 558.7,137.1C555.8,142.4 554.6,146.3 553.6,152.0C552.6,157.7 552.6,160.2 553.6,165.7C554.6,171.2 555.2,174.6 558.7,179.4C562.2,184.2 565.4,187.0 571.3,189.7C577.2,192.4 582.2,192.9 588.4,193.1C594.6,193.3 597.3,192.0 602.1,190.9C606.9,189.8 611.0,189.7 612.4,187.4C613.8,185.1 611.3,182.5 609.0,179.4C606.7,176.3 604.2,173.4 601.0,172.0C597.8,170.6 597.3,172.9 593.0,172.6C588.7,172.3 583.4,172.1 579.3,170.3C575.2,168.5 574.0,166.6 572.4,163.4C570.8,160.2 571.3,158.0 571.3,154.3C571.3,150.6 571.0,149.0 572.4,145.1C573.8,141.2 579.0,138.8 578.1,134.9C577.2,131.0 571.8,125.3 567.9,125.7Z" fill="#f1b58e"/>
<polygon points="571.6,153.1 567.3,160.5 558.7,160.5 554.4,153.1 558.7,145.7 567.3,145.7" fill="none" stroke="#6e3d1c" stroke-width="1.55" stroke-linejoin="round"/>
<polygon points="571.6,168.0 567.3,175.4 558.7,175.4 554.4,168.0 558.7,160.6 567.3,160.6" fill="none" stroke="#6e3d1c" stroke-width="1.55" stroke-linejoin="round"/>
<polygon points="584.5,176.0 580.2,183.4 571.6,183.4 567.3,176.0 571.6,168.6 580.2,168.6" fill="none" stroke="#6e3d1c" stroke-width="1.55" stroke-linejoin="round"/>
<polygon points="652.6,122.4 648.3,129.8 639.7,129.8 635.4,122.4 639.7,115.0 648.3,115.0" fill="none" stroke="#6e3d1c" stroke-width="1.55" stroke-linejoin="round"/>
<polygon points="665.2,130.4 660.9,137.8 652.3,137.8 648.0,130.4 652.3,123.0 660.9,123.0" fill="none" stroke="#6e3d1c" stroke-width="1.55" stroke-linejoin="round"/>
<polygon points="663.5,145.9 659.2,153.3 650.6,153.3 646.3,145.9 650.6,138.5 659.2,138.5" fill="none" stroke="#6e3d1c" stroke-width="1.55" stroke-linejoin="round"/>
<polygon points="601.2,114.6 596.9,122.0 588.3,122.0 584.0,114.6 588.3,107.2 596.9,107.2" fill="none" stroke="#2a2a2a" stroke-width="1.55" stroke-linejoin="round"/>
<polygon points="631.1,183.0 626.8,190.4 618.2,190.4 613.9,183.0 618.2,175.6 626.8,175.6" fill="none" stroke="#2a2a2a" stroke-width="1.55" stroke-linejoin="round"/>
<path d="M588.0,108.5 L596.0,108.5" stroke="#2a2a2a" stroke-width="1.0" stroke-linecap="round"/>
<path d="M588.0,120.5 L596.0,120.5" stroke="#2a2a2a" stroke-width="1.0" stroke-linecap="round"/>
<path d="M618.0,177.0 L626.0,177.0" stroke="#2a2a2a" stroke-width="1.0" stroke-linecap="round"/>
<path d="M618.0,189.0 L626.0,189.0" stroke="#2a2a2a" stroke-width="1.0" stroke-linecap="round"/>
<path d="M567.3,145.7 L572.4,137.1" stroke="#6e3d1c" stroke-width="1.4" stroke-linecap="round"/>
<path d="M572.4,137.1 L567.5,130.0" stroke="#6e3d1c" stroke-width="1.4" stroke-linecap="round"/>
<path d="M572.4,137.1 L579.5,138.0" stroke="#6e3d1c" stroke-width="1.4" stroke-linecap="round"/>
<path d="M580.2,176.0 L589.0,176.0" stroke="#6e3d1c" stroke-width="1.4" stroke-linecap="round"/>
<path d="M589.0,176.0 L594.0,169.0" stroke="#6e3d1c" stroke-width="1.4" stroke-linecap="round"/>
<path d="M589.0,176.0 L594.0,183.0" stroke="#6e3d1c" stroke-width="1.4" stroke-linecap="round"/>
<path d="M635.4,122.4 L626.0,122.4" stroke="#6e3d1c" stroke-width="1.4" stroke-linecap="round"/>
<path d="M626.0,122.4 L621.0,116.0" stroke="#6e3d1c" stroke-width="1.4" stroke-linecap="round"/>
<path d="M626.0,122.4 L621.0,129.0" stroke="#6e3d1c" stroke-width="1.4" stroke-linecap="round"/>
<path d="M650.6,153.3 L646.0,160.1" stroke="#6e3d1c" stroke-width="1.4" stroke-linecap="round"/>
<path d="M646.0,160.1 L639.0,159.6" stroke="#6e3d1c" stroke-width="1.4" stroke-linecap="round"/>
<path d="M646.0,160.1 L650.0,167.0" stroke="#6e3d1c" stroke-width="1.4" stroke-linecap="round"/>
<path d="M596.9,107.2 L601.7,100.5" stroke="#2a2a2a" stroke-width="1.4" stroke-linecap="round"/>
<path d="M601.7,100.5 L607.0,100.5" stroke="#2a2a2a" stroke-width="1.4" stroke-linecap="round"/>
<path d="M601.7,100.5 L599.0,93.0" stroke="#2a2a2a" stroke-width="1.4" stroke-linecap="round"/>
<path d="M584.0,114.6 L577.0,114.6" stroke="#2a2a2a" stroke-width="1.4" stroke-linecap="round"/>
<path d="M577.0,114.6 L572.0,107.0" stroke="#2a2a2a" stroke-width="1.4" stroke-linecap="round"/>
<path d="M577.0,114.6 L572.0,122.0" stroke="#2a2a2a" stroke-width="1.4" stroke-linecap="round"/>
<path d="M596.9,122.0 L602.9,130.6" stroke="#2a2a2a" stroke-width="1.4" stroke-linecap="round"/>
<path d="M602.9,130.6 L608.0,130.6" stroke="#2a2a2a" stroke-width="1.4" stroke-linecap="round"/>
<path d="M602.9,130.6 L598.0,137.5" stroke="#2a2a2a" stroke-width="1.4" stroke-linecap="round"/>
<path d="M618.2,175.6 L614.0,168.0" stroke="#2a2a2a" stroke-width="1.4" stroke-linecap="round"/>
<path d="M614.0,168.0 L608.0,168.0" stroke="#2a2a2a" stroke-width="1.4" stroke-linecap="round"/>
<path d="M614.0,168.0 L614.0,162.0" stroke="#2a2a2a" stroke-width="1.4" stroke-linecap="round"/>
<path d="M631.1,183.0 L638.0,183.0" stroke="#2a2a2a" stroke-width="1.4" stroke-linecap="round"/>
<path d="M638.0,183.0 L642.0,177.0" stroke="#2a2a2a" stroke-width="1.4" stroke-linecap="round"/>
<path d="M638.0,183.0 L643.0,190.0" stroke="#2a2a2a" stroke-width="1.4" stroke-linecap="round"/>
<path d="M618.2,190.4 L614.0,197.0" stroke="#2a2a2a" stroke-width="1.4" stroke-linecap="round"/>
<path d="M614.0,197.0 L608.0,197.0" stroke="#2a2a2a" stroke-width="1.4" stroke-linecap="round"/>
<path d="M614.0,197.0 L615.0,204.0" stroke="#2a2a2a" stroke-width="1.4" stroke-linecap="round"/>
<text x="598.0" y="92.0" text-anchor="middle" font-size="7.6" font-weight="bold" style="fill:#2a2a2a">H</text>
<text x="609.5" y="103.0" text-anchor="middle" font-size="7.6" font-weight="bold" style="fill:#2a2a2a">H</text>
<text x="571.0" y="105.0" text-anchor="middle" font-size="7.6" font-weight="bold" style="fill:#2a2a2a">H</text>
<text x="571.0" y="127.0" text-anchor="middle" font-size="7.6" font-weight="bold" style="fill:#2a2a2a">H</text>
<text x="612.0" y="117.5" text-anchor="middle" font-size="7.6" font-weight="bold" style="fill:#2a2a2a">H</text>
<text x="620.0" y="117.5" text-anchor="middle" font-size="7.6" font-weight="bold" style="fill:#2a2a2a">O</text>
<text x="610.5" y="133.5" text-anchor="middle" font-size="7.6" font-weight="bold" style="fill:#2a2a2a">H</text>
<text x="619.0" y="133.5" text-anchor="middle" font-size="7.6" font-weight="bold" style="fill:#2a2a2a">O</text>
<text x="597.5" y="142.0" text-anchor="middle" font-size="7.6" font-weight="bold" style="fill:#2a2a2a">H</text>
<text x="566.0" y="132.0" text-anchor="middle" font-size="7.6" font-weight="bold" style="fill:#6e3d1c">O</text>
<text x="581.0" y="142.0" text-anchor="middle" font-size="7.6" font-weight="bold" style="fill:#6e3d1c">O</text>
<text x="586.0" y="134.0" text-anchor="middle" font-size="7.6" font-weight="bold" style="fill:#2a2a2a">H</text>
<text x="592.0" y="167.0" text-anchor="middle" font-size="7.6" font-weight="bold" style="fill:#2a2a2a">O</text>
<text x="593.0" y="188.0" text-anchor="middle" font-size="7.6" font-weight="bold" style="fill:#2a2a2a">O</text>
<text x="600.0" y="188.0" text-anchor="middle" font-size="7.6" font-weight="bold" style="fill:#2a2a2a">H</text>
<text x="606.0" y="171.0" text-anchor="middle" font-size="7.6" font-weight="bold" style="fill:#2a2a2a">H</text>
<text x="614.0" y="163.0" text-anchor="middle" font-size="7.6" font-weight="bold" style="fill:#2a2a2a">N</text>
<text x="614.0" y="158.0" text-anchor="middle" font-size="7.6" font-weight="bold" style="fill:#2a2a2a">H</text>
<text x="639.0" y="163.0" text-anchor="middle" font-size="7.6" font-weight="bold" style="fill:#2a2a2a">O</text>
<text x="651.0" y="172.0" text-anchor="middle" font-size="7.6" font-weight="bold" style="fill:#2a2a2a">O</text>
<text x="644.0" y="178.0" text-anchor="middle" font-size="7.6" font-weight="bold" style="fill:#2a2a2a">H</text>
<text x="647.0" y="192.0" text-anchor="middle" font-size="7.6" font-weight="bold" style="fill:#2a2a2a">H</text>
<text x="641.0" y="168.0" text-anchor="middle" font-size="7.6" font-weight="bold" style="fill:#2a2a2a">H</text>
<text x="607.0" y="200.0" text-anchor="middle" font-size="7.6" font-weight="bold" style="fill:#2a2a2a">H</text>
<text x="615.0" y="210.0" text-anchor="middle" font-size="7.6" font-weight="bold" style="fill:#2a2a2a">H</text>
<text x="617.0" y="214.0" text-anchor="middle" font-size="7.6" font-weight="bold" style="fill:#2a2a2a">H</text>
<text font-size="8.2" font-weight="bold" textLength="34" lengthAdjust="spacingAndGlyphs" transform="translate(625.5,128) rotate(58)" style="fill:#e44c4c">Specific site</text>
<path d="M596.0,88.0 L598.0,85.0" stroke="#58a8e0" stroke-width="1.2" stroke-linecap="round"/>
<path d="M585.0,104.0 L583.0,101.0" stroke="#58a8e0" stroke-width="1.2" stroke-linecap="round"/>
<path d="M606.0,114.0 L608.0,114.0" stroke="#58a8e0" stroke-width="1.2" stroke-linecap="round"/>
<path d="M606.0,131.0 L608.0,131.0" stroke="#58a8e0" stroke-width="1.2" stroke-linecap="round"/>
<path d="M594.0,130.0 L592.0,133.0" stroke="#58a8e0" stroke-width="1.2" stroke-linecap="round"/>
<path d="M613.0,172.0 L611.0,170.0" stroke="#58a8e0" stroke-width="1.2" stroke-linecap="round"/>
<path d="M606.0,188.0 L604.0,186.0" stroke="#58a8e0" stroke-width="1.2" stroke-linecap="round"/>
<path d="M630.0,171.0 L631.0,168.0" stroke="#58a8e0" stroke-width="1.2" stroke-linecap="round"/>
<path d="M617.0,202.0 L619.0,205.0" stroke="#58a8e0" stroke-width="1.2" stroke-linecap="round"/>
<path d="M30.7,439.6 C38,436 46,432 53.6,432.1 C60,432 64,438 66.1,444.7" fill="none" stroke="#8c8c8c" stroke-width="7" stroke-linecap="round"/>
<path d="M66.1,444.7 C68,436 76,430 87.9,432 C94,428 100,424 108,424 C116,424 121,432 126.4,446.6" fill="none" stroke="#8c8c8c" stroke-width="7" stroke-linecap="round"/>
<path d="M66.1,444.7 C69,452 69,462 70,466 C72,472 80,474 92.4,474.4" fill="none" stroke="#8c8c8c" stroke-width="7" stroke-linecap="round"/>
<path d="M125.2,503.5 C128,511 137,520 148,520 C156,520 166,518 175,512 C180,509 184,507 186.5,505.1" fill="none" stroke="#8c8c8c" stroke-width="7" stroke-linecap="round"/>
<path d="M186.5,505.1 C187,497 186,488 182,482 C178,477 170,475 159.8,475.2" fill="none" stroke="#8c8c8c" stroke-width="7" stroke-linecap="round"/>
<path d="M186.5,505.1 C191,510 198,512.5 205,511 C211,510 215,508.5 218.8,507.5" fill="none" stroke="#8c8c8c" stroke-width="7" stroke-linecap="round"/>
<path d="M30.7,439.6 C38,436 46,432 53.6,432.1 C60,432 64,438 66.1,444.7" fill="none" stroke="#b8b8b8" stroke-width="5.2" stroke-linecap="round"/>
<path d="M66.1,444.7 C68,436 76,430 87.9,432 C94,428 100,424 108,424 C116,424 121,432 126.4,446.6" fill="none" stroke="#b8b8b8" stroke-width="5.2" stroke-linecap="round"/>
<path d="M66.1,444.7 C69,452 69,462 70,466 C72,472 80,474 92.4,474.4" fill="none" stroke="#b8b8b8" stroke-width="5.2" stroke-linecap="round"/>
<path d="M125.2,503.5 C128,511 137,520 148,520 C156,520 166,518 175,512 C180,509 184,507 186.5,505.1" fill="none" stroke="#b8b8b8" stroke-width="5.2" stroke-linecap="round"/>
<path d="M186.5,505.1 C187,497 186,488 182,482 C178,477 170,475 159.8,475.2" fill="none" stroke="#b8b8b8" stroke-width="5.2" stroke-linecap="round"/>
<path d="M186.5,505.1 C191,510 198,512.5 205,511 C211,510 215,508.5 218.8,507.5" fill="none" stroke="#b8b8b8" stroke-width="5.2" stroke-linecap="round"/>
<path d="M30.7,439.6 C38,436 46,432 53.6,432.1 C60,432 64,438 66.1,444.7" fill="none" stroke="#dadada" stroke-width="2.2" stroke-linecap="round" transform="translate(-0.5,-0.7)"/>
<path d="M66.1,444.7 C68,436 76,430 87.9,432 C94,428 100,424 108,424 C116,424 121,432 126.4,446.6" fill="none" stroke="#dadada" stroke-width="2.2" stroke-linecap="round" transform="translate(-0.5,-0.7)"/>
<path d="M66.1,444.7 C69,452 69,462 70,466 C72,472 80,474 92.4,474.4" fill="none" stroke="#dadada" stroke-width="2.2" stroke-linecap="round" transform="translate(-0.5,-0.7)"/>
<path d="M125.2,503.5 C128,511 137,520 148,520 C156,520 166,518 175,512 C180,509 184,507 186.5,505.1" fill="none" stroke="#dadada" stroke-width="2.2" stroke-linecap="round" transform="translate(-0.5,-0.7)"/>
<path d="M186.5,505.1 C187,497 186,488 182,482 C178,477 170,475 159.8,475.2" fill="none" stroke="#dadada" stroke-width="2.2" stroke-linecap="round" transform="translate(-0.5,-0.7)"/>
<path d="M186.5,505.1 C191,510 198,512.5 205,511 C211,510 215,508.5 218.8,507.5" fill="none" stroke="#dadada" stroke-width="2.2" stroke-linecap="round" transform="translate(-0.5,-0.7)"/>
<circle cx="66.1" cy="444.7" r="5.2" fill="url(#gKnot)"/>
<circle cx="186.5" cy="505.1" r="5.2" fill="url(#gKnot)"/>
<path d="M128.7,476.6 L92.4,474.4" stroke="#111" stroke-width="1.5" stroke-dasharray="1.4 1.4"/>
<path d="M128.7,476.6 L159.8,475.2" stroke="#111" stroke-width="1.5" stroke-dasharray="1.4 1.4"/>
<path d="M128.7,476.6 L126.4,446.6" stroke="#111" stroke-width="1.5" stroke-dasharray="1.4 1.4"/>
<path d="M128.7,476.6 L125.2,503.5" stroke="#111" stroke-width="1.5" stroke-dasharray="1.4 1.4"/>
<circle cx="87.9" cy="432.7" r="7" fill="url(#gBall2)"/>
<circle cx="92.4" cy="474.4" r="7" fill="url(#gBall2)"/>
<circle cx="159.8" cy="475.2" r="7" fill="url(#gBall2)"/>
<circle cx="163" cy="516.9" r="7" fill="url(#gBall2)"/>
<circle cx="126.4" cy="446.6" r="7" fill="url(#gBallR)"/>
<circle cx="125.2" cy="503.5" r="7" fill="url(#gBallR)"/>
<circle cx="128.7" cy="476.6" r="10.3" fill="url(#gU)" stroke="#8a8200" stroke-width="0.9"/>
<text x="128.7" y="481.8" text-anchor="middle" font-size="14.5" font-weight="bold" style="fill:#000;font-family:'Liberation Sans',sans-serif">U</text>
<ellipse cx="335.7" cy="498.6" rx="36.3" ry="71.4" fill="url(#gEll)"/>
<path d="M308.6,425.7 H364.6" stroke="#7fa0dc" stroke-width="2.8"/>
<path d="M307.9,571.3 H363.1" stroke="#7fa0dc" stroke-width="2.8"/>
<path d="M374.4,418.4 C388,418 400,424 405,436 C407.5,442 408.2,450 408,461.3 L413.1,461.3 L405.4,474.2 L397.6,461.3 L399.5,461.3 C399.3,452 398,444 395,437 C390,428 383,422 374.4,418.4 Z" fill="url(#gCurA)"/>
<path d="M368.8,574.8 C382,572 392,566 398,556 C402,549 404,542 404.5,532.8 L409.1,532.8 L400.9,519.5 L392.7,532.8 L395.5,532.8 C395,541 393,548 389,555 C384,564 377,570 368.8,574.8 Z" fill="url(#gCurB)"/>
<text x="308.55" y="422.1" font-size="19.6">e-</text>
<text x="331" y="422.1" font-size="19.6">e-</text>
<text x="352.1" y="422.1" font-size="19.6">e-</text>
<text x="285.3" y="442.4" font-size="19.6">CB</text>
<text x="288.3" y="566.9" font-size="19.6">VB</text>
<text x="308.5" y="589.3" font-size="19.6">h-</text>
<text x="331.3" y="589.3" font-size="19.6">h-</text>
<text x="352.8" y="589.3" font-size="19.6">h-</text>
<text x="376.7" y="490.8" font-size="19.6">reduction</text>
<text x="378.7" y="516.8" font-size="19.6">oxidation</text>
<rect x="546" y="469.5" width="109.5" height="123.5" fill="url(#gSol)"/>
<path d="M540.8,469 V428.6 H594.3 M609.3,428.6 H659.8 V469" fill="none" stroke="#000" stroke-width="3.2"/>
<path d="M600.3,422.1 V435.4" stroke="#000" stroke-width="3.3" stroke-linecap="round"/>
<path d="M609.3,418.1 V439.3" stroke="#000" stroke-width="3.3" stroke-linecap="round"/>
<path d="M584.3,422.4 H590.1" stroke="#000" stroke-width="3" stroke-linecap="round"/>
<path d="M616.3,421.3 H624.3 M620.2,417.3 V425.3" stroke="#000" stroke-width="2.8" stroke-linecap="round"/>
<rect x="538.1" y="469.6" width="7.8" height="123.8" fill="url(#gElec)" stroke="#2c4a66" stroke-width="1.3"/>
<rect x="656.1" y="469.6" width="7.8" height="123.8" fill="url(#gElec)" stroke="#2c4a66" stroke-width="1.3"/>
<circle cx="576.7" cy="484.3" r="4.6" fill="url(#gYel2)"/>
<circle cx="593.9" cy="481.9" r="4.6" fill="url(#gYel2)"/>
<circle cx="601.8" cy="496.4" r="6.1" fill="url(#gYel2)"/>
<circle cx="578.5" cy="500.4" r="3.5" fill="url(#gYel2)"/>
<circle cx="580.6" cy="563.7" r="6.3" fill="url(#gOr)"/>
<circle cx="597.7" cy="558.6" r="4.6" fill="url(#gOr)"/>
<circle cx="578.2" cy="579.8" r="4.8" fill="url(#gOr)"/>
<circle cx="598.1" cy="574.6" r="3.6" fill="url(#gOr)"/>
<path d="M587.2,502.2 C579,509 573,519 572,529 C571.5,537 573,544 575,549.4 L571.4,552.3 L583.8,554.8 L585.8,540.7 L581,544.6 C579,538 578,531 578.5,524 C579.5,515 583,508 587.2,502.2 Z" fill="url(#gCurE)"/>
<text x="548.4" y="490.8" font-size="19">e-</text>
<text x="548.4" y="513.1" font-size="19">e-</text>
<text x="548.4" y="539.5" font-size="19">e-</text>
<text x="548.4" y="562.7" font-size="19">e-</text>
<text x="548.4" y="585.8" font-size="19">e-</text>
<text x="580" y="532.9" font-size="19.3">reduction</text>

</svg>
</body></html>
